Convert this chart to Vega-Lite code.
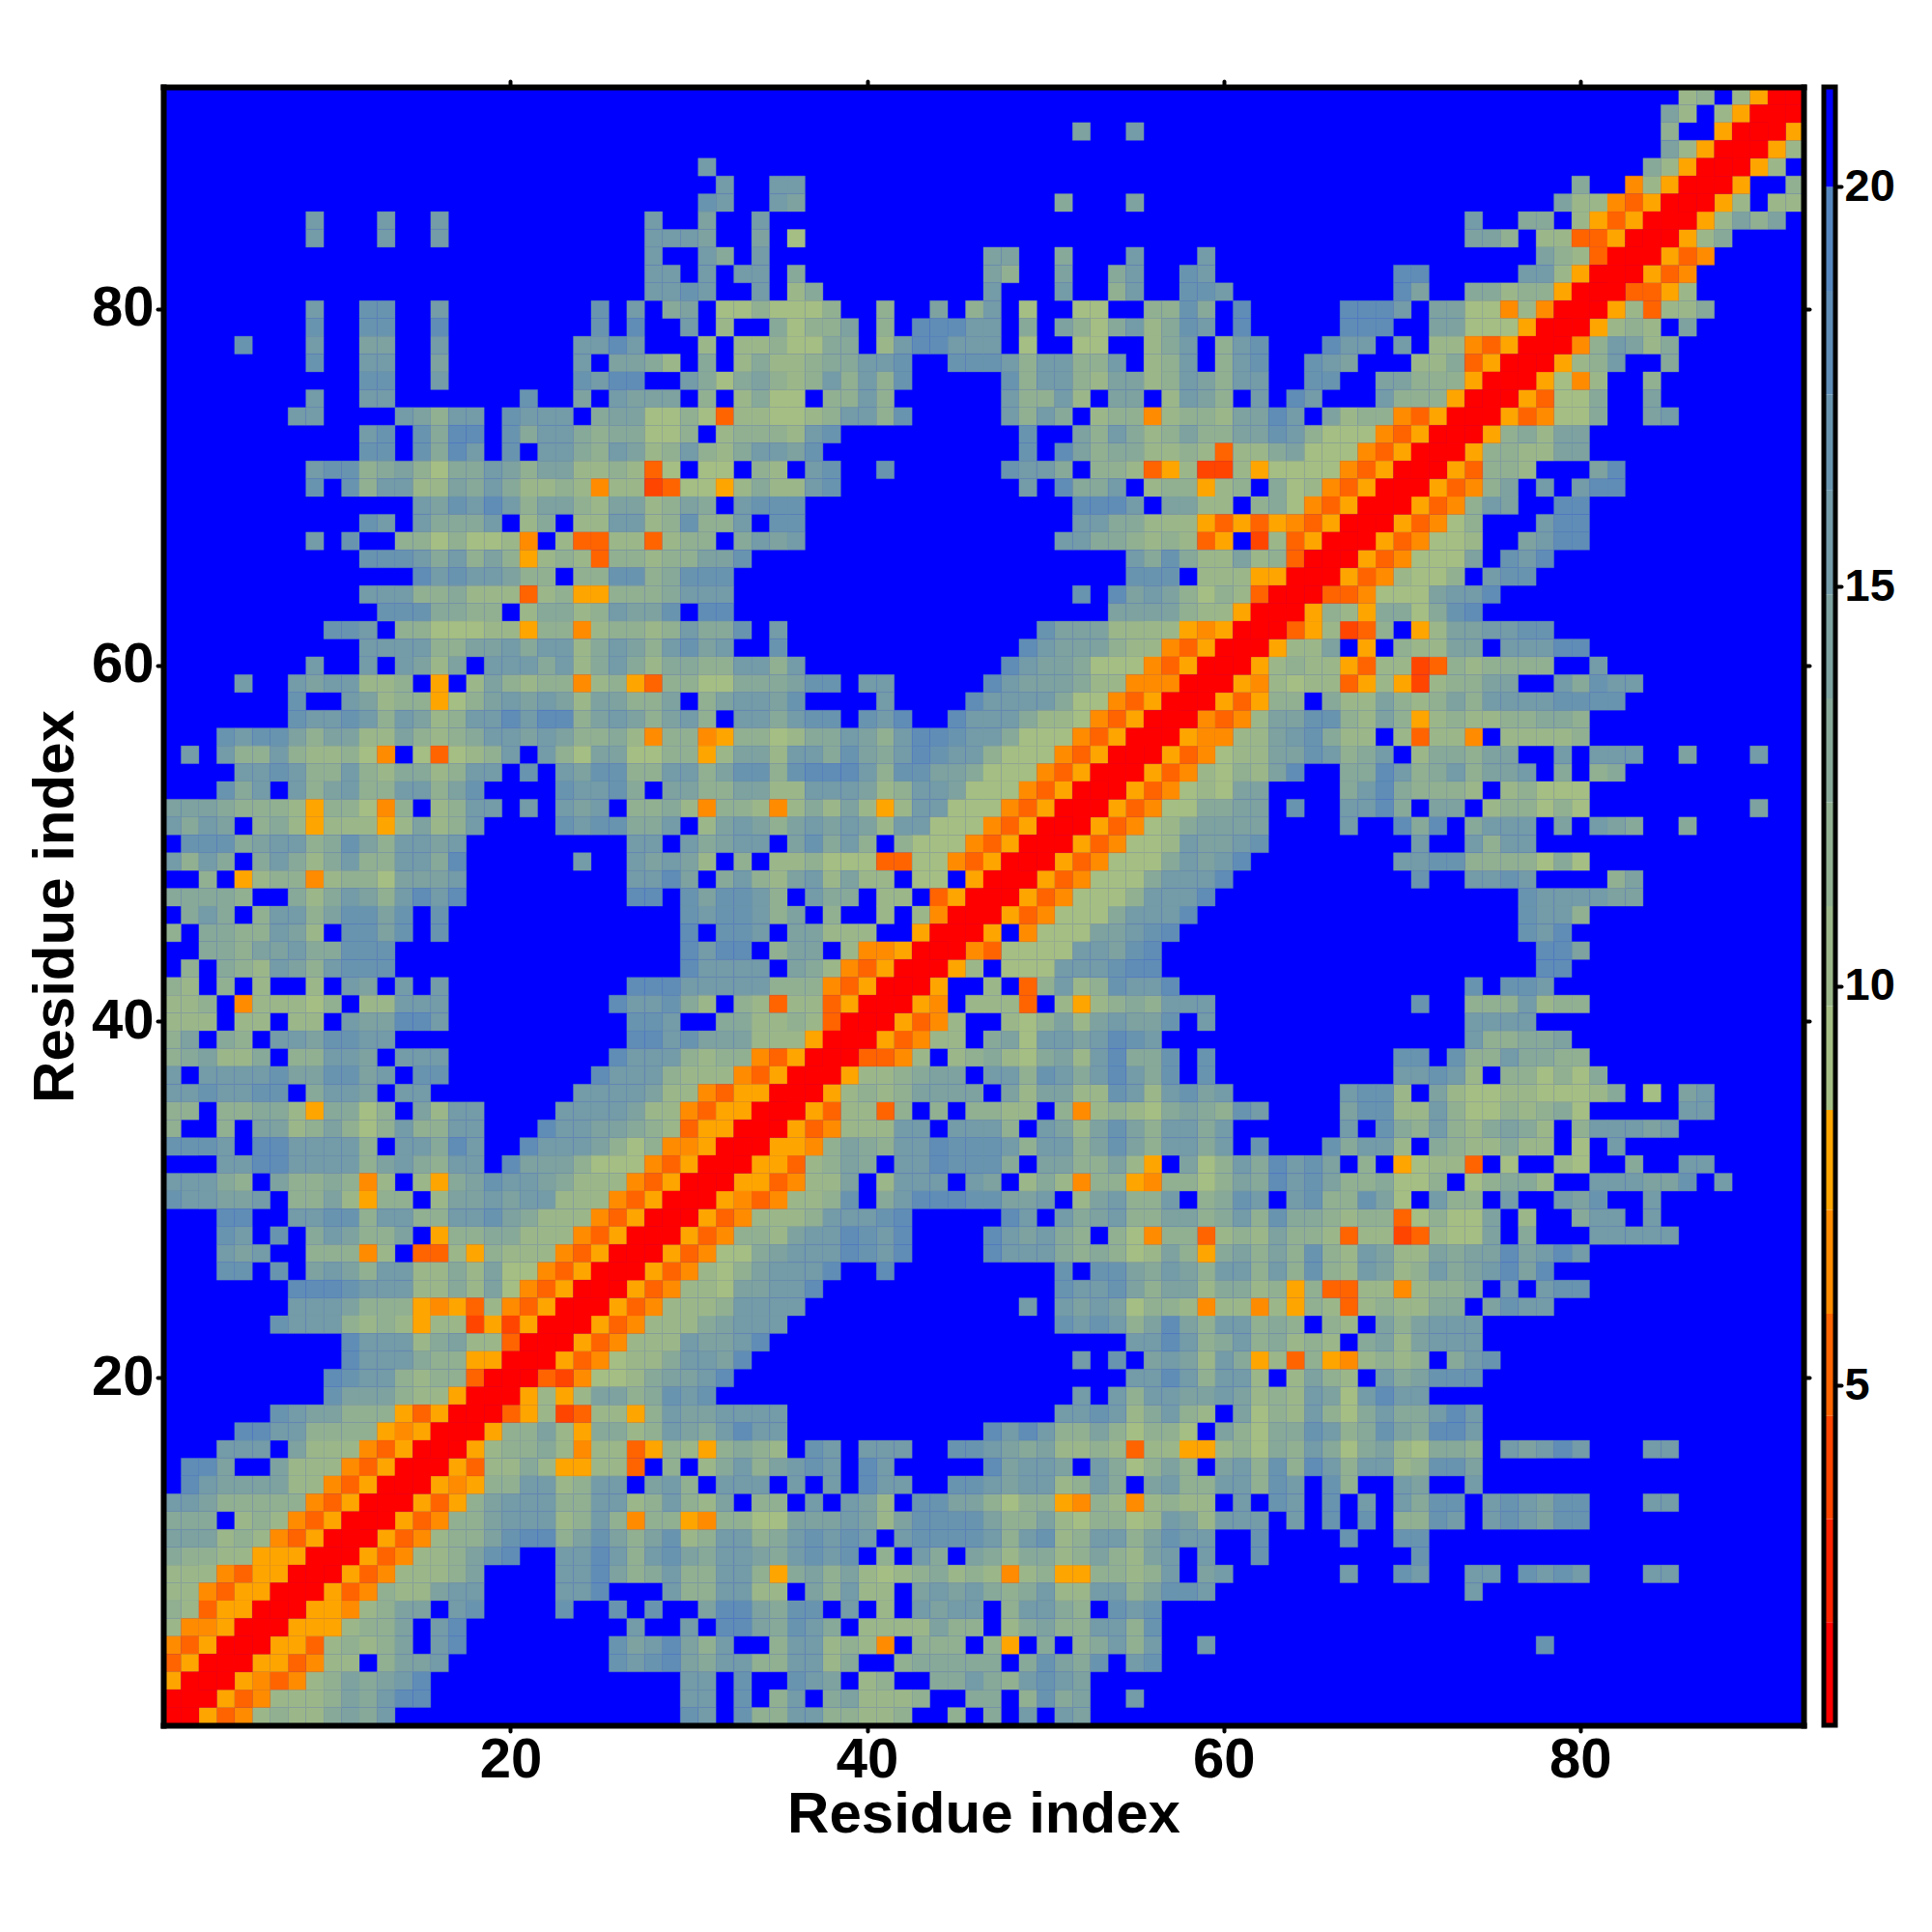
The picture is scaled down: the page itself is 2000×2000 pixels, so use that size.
{"$schema":"https://vega.github.io/schema/vega-lite/v6.json","background":"white","padding":{"left":27,"top":82,"right":5,"bottom":5},"spacing":10,
"datasets":{"m":[
{"i":86,"j":92,"d":10},{"i":87,"j":92,"d":11},{"i":89,"j":92,"d":10},{"i":90,"j":92,"d":8},{"i":91,"j":92,"d":1.5},{"i":92,"j":92,"d":1.5},
{"i":85,"j":91,"d":14},{"i":86,"j":91,"d":10},{"i":88,"j":91,"d":10},{"i":89,"j":91,"d":8},{"i":90,"j":91,"d":1.5},{"i":91,"j":91,"d":1.5},
{"i":52,"j":90,"d":14},{"i":55,"j":90,"d":15},{"i":85,"j":90,"d":11},{"i":88,"j":90,"d":8},{"i":89,"j":90,"d":1.5},{"i":90,"j":90,"d":1.5},
{"i":85,"j":89,"d":14},{"i":86,"j":89,"d":10},{"i":87,"j":89,"d":8},{"i":88,"j":89,"d":1.5},{"i":89,"j":89,"d":1.5},
{"i":31,"j":88,"d":15},{"i":84,"j":88,"d":13},{"i":85,"j":88,"d":10},{"i":86,"j":88,"d":8},{"i":87,"j":88,"d":1.5},{"i":88,"j":88,"d":1.5},
{"i":32,"j":87,"d":16},{"i":35,"j":87,"d":15},{"i":36,"j":87,"d":15},{"i":80,"j":87,"d":13},{"i":83,"j":87,"d":6.5},{"i":84,"j":87,"d":10},{"i":85,"j":87,"d":8},{"i":86,"j":87,"d":1.5},{"i":87,"j":87,"d":1.5},
{"i":31,"j":86,"d":17},{"i":32,"j":86,"d":15},{"i":35,"j":86,"d":15},{"i":36,"j":86,"d":14},{"i":51,"j":86,"d":13},{"i":55,"j":86,"d":14},{"i":79,"j":86,"d":14},{"i":80,"j":86,"d":10},{"i":81,"j":86,"d":10},{"i":82,"j":86,"d":6.5},{"i":83,"j":86,"d":5},{"i":84,"j":86,"d":8},{"i":85,"j":86,"d":1.5},{"i":86,"j":86,"d":1.5},
{"i":9,"j":85,"d":16},{"i":13,"j":85,"d":16},{"i":16,"j":85,"d":16},{"i":28,"j":85,"d":15},{"i":31,"j":85,"d":14},{"i":34,"j":85,"d":15},{"i":74,"j":85,"d":16},{"i":77,"j":85,"d":13},{"i":78,"j":85,"d":13},{"i":80,"j":85,"d":10},{"i":81,"j":85,"d":8},{"i":82,"j":85,"d":5},{"i":83,"j":85,"d":8},{"i":84,"j":85,"d":1.5},{"i":85,"j":85,"d":1.5},
{"i":9,"j":84,"d":16},{"i":13,"j":84,"d":16},{"i":16,"j":84,"d":16},{"i":28,"j":84,"d":15},{"i":29,"j":84,"d":16},{"i":30,"j":84,"d":16},{"i":31,"j":84,"d":14},{"i":34,"j":84,"d":14},{"i":36,"j":84,"d":9},{"i":74,"j":84,"d":14},{"i":75,"j":84,"d":14},{"i":76,"j":84,"d":12},{"i":78,"j":84,"d":10},{"i":79,"j":84,"d":10},{"i":80,"j":84,"d":5},{"i":81,"j":84,"d":5},{"i":82,"j":84,"d":8},{"i":83,"j":84,"d":1.5},{"i":84,"j":84,"d":1.5},
{"i":28,"j":83,"d":16},{"i":31,"j":83,"d":15},{"i":32,"j":83,"d":13},{"i":34,"j":83,"d":15},{"i":47,"j":83,"d":14},{"i":48,"j":83,"d":14},{"i":51,"j":83,"d":13},{"i":55,"j":83,"d":15},{"i":59,"j":83,"d":15},{"i":78,"j":83,"d":14},{"i":79,"j":83,"d":12},{"i":80,"j":83,"d":10},{"i":81,"j":83,"d":5},{"i":82,"j":83,"d":1.5},{"i":83,"j":83,"d":1.5},
{"i":28,"j":82,"d":16},{"i":29,"j":82,"d":16},{"i":31,"j":82,"d":15},{"i":33,"j":82,"d":15},{"i":34,"j":82,"d":15},{"i":36,"j":82,"d":13},{"i":47,"j":82,"d":14},{"i":48,"j":82,"d":12},{"i":51,"j":82,"d":14},{"i":54,"j":82,"d":13},{"i":55,"j":82,"d":15},{"i":58,"j":82,"d":17},{"i":59,"j":82,"d":16},{"i":70,"j":82,"d":18},{"i":71,"j":82,"d":18},{"i":77,"j":82,"d":15},{"i":78,"j":82,"d":15},{"i":79,"j":82,"d":10},{"i":80,"j":82,"d":8},{"i":81,"j":82,"d":1.5},{"i":82,"j":82,"d":1.5},
{"i":28,"j":81,"d":15},{"i":29,"j":81,"d":15},{"i":30,"j":81,"d":17},{"i":31,"j":81,"d":15},{"i":34,"j":81,"d":15},{"i":36,"j":81,"d":10},{"i":37,"j":81,"d":13},{"i":47,"j":81,"d":15},{"i":51,"j":81,"d":15},{"i":54,"j":81,"d":12},{"i":55,"j":81,"d":15},{"i":58,"j":81,"d":17},{"i":59,"j":81,"d":17},{"i":60,"j":81,"d":15},{"i":70,"j":81,"d":18},{"i":71,"j":81,"d":14},{"i":74,"j":81,"d":13},{"i":75,"j":81,"d":13},{"i":76,"j":81,"d":10},{"i":77,"j":81,"d":12},{"i":78,"j":81,"d":11},{"i":79,"j":81,"d":8},{"i":80,"j":81,"d":1.5},{"i":81,"j":81,"d":1.5},
{"i":9,"j":80,"d":16},{"i":12,"j":80,"d":17},{"i":13,"j":80,"d":17},{"i":16,"j":80,"d":15},{"i":25,"j":80,"d":17},{"i":27,"j":80,"d":15},{"i":29,"j":80,"d":13},{"i":30,"j":80,"d":14},{"i":32,"j":80,"d":9},{"i":33,"j":80,"d":9},{"i":34,"j":80,"d":12},{"i":35,"j":80,"d":9},{"i":36,"j":80,"d":9},{"i":37,"j":80,"d":9},{"i":38,"j":80,"d":11},{"i":41,"j":80,"d":12},{"i":44,"j":80,"d":14},{"i":46,"j":80,"d":12},{"i":47,"j":80,"d":15},{"i":49,"j":80,"d":9},{"i":52,"j":80,"d":9},{"i":53,"j":80,"d":9},{"i":56,"j":80,"d":12},{"i":57,"j":80,"d":12},{"i":58,"j":80,"d":17},{"i":59,"j":80,"d":13},{"i":61,"j":80,"d":18},{"i":67,"j":80,"d":18},{"i":68,"j":80,"d":18},{"i":69,"j":80,"d":18},{"i":70,"j":80,"d":15},{"i":72,"j":80,"d":14},{"i":73,"j":80,"d":14},{"i":74,"j":80,"d":9},{"i":75,"j":80,"d":9},{"i":76,"j":80,"d":6.5},{"i":77,"j":80,"d":10},{"i":78,"j":80,"d":6.5},{"i":79,"j":80,"d":1.5},{"i":80,"j":80,"d":1.5},
{"i":9,"j":79,"d":17},{"i":12,"j":79,"d":17},{"i":13,"j":79,"d":17},{"i":16,"j":79,"d":18},{"i":25,"j":79,"d":17},{"i":27,"j":79,"d":18},{"i":30,"j":79,"d":15},{"i":32,"j":79,"d":10},{"i":35,"j":79,"d":13},{"i":36,"j":79,"d":9},{"i":37,"j":79,"d":12},{"i":38,"j":79,"d":12},{"i":39,"j":79,"d":14},{"i":41,"j":79,"d":12},{"i":43,"j":79,"d":18},{"i":44,"j":79,"d":18},{"i":45,"j":79,"d":18},{"i":46,"j":79,"d":15},{"i":47,"j":79,"d":16},{"i":49,"j":79,"d":13},{"i":51,"j":79,"d":14},{"i":52,"j":79,"d":12},{"i":53,"j":79,"d":9},{"i":54,"j":79,"d":13},{"i":55,"j":79,"d":15},{"i":56,"j":79,"d":10},{"i":57,"j":79,"d":13},{"i":58,"j":79,"d":17},{"i":59,"j":79,"d":15},{"i":61,"j":79,"d":18},{"i":67,"j":79,"d":18},{"i":68,"j":79,"d":18},{"i":69,"j":79,"d":18},{"i":72,"j":79,"d":14},{"i":73,"j":79,"d":14},{"i":74,"j":79,"d":9},{"i":75,"j":79,"d":9},{"i":76,"j":79,"d":9},{"i":77,"j":79,"d":8},{"i":78,"j":79,"d":1.5},{"i":79,"j":79,"d":1.5},
{"i":5,"j":78,"d":17},{"i":9,"j":78,"d":15},{"i":12,"j":78,"d":14},{"i":13,"j":78,"d":14},{"i":16,"j":78,"d":15},{"i":24,"j":78,"d":16},{"i":25,"j":78,"d":16},{"i":26,"j":78,"d":18},{"i":27,"j":78,"d":15},{"i":31,"j":78,"d":10},{"i":33,"j":78,"d":10},{"i":34,"j":78,"d":10},{"i":35,"j":78,"d":12},{"i":36,"j":78,"d":9},{"i":37,"j":78,"d":9},{"i":38,"j":78,"d":13},{"i":39,"j":78,"d":13},{"i":41,"j":78,"d":10},{"i":42,"j":78,"d":16},{"i":43,"j":78,"d":18},{"i":44,"j":78,"d":18},{"i":45,"j":78,"d":16},{"i":46,"j":78,"d":16},{"i":47,"j":78,"d":16},{"i":49,"j":78,"d":9},{"i":52,"j":78,"d":9},{"i":53,"j":78,"d":9},{"i":56,"j":78,"d":10},{"i":57,"j":78,"d":13},{"i":58,"j":78,"d":16},{"i":60,"j":78,"d":12},{"i":61,"j":78,"d":16},{"i":62,"j":78,"d":17},{"i":66,"j":78,"d":18},{"i":67,"j":78,"d":16},{"i":68,"j":78,"d":15},{"i":70,"j":78,"d":15},{"i":72,"j":78,"d":10},{"i":73,"j":78,"d":10},{"i":74,"j":78,"d":6.5},{"i":75,"j":78,"d":5},{"i":76,"j":78,"d":8},{"i":77,"j":78,"d":1.5},{"i":78,"j":78,"d":1.5},
{"i":9,"j":77,"d":17},{"i":12,"j":77,"d":15},{"i":13,"j":77,"d":16},{"i":16,"j":77,"d":14},{"i":24,"j":77,"d":16},{"i":26,"j":77,"d":14},{"i":27,"j":77,"d":14},{"i":28,"j":77,"d":13},{"i":29,"j":77,"d":10},{"i":31,"j":77,"d":13},{"i":33,"j":77,"d":10},{"i":34,"j":77,"d":13},{"i":35,"j":77,"d":10},{"i":36,"j":77,"d":10},{"i":37,"j":77,"d":12},{"i":38,"j":77,"d":13},{"i":39,"j":77,"d":13},{"i":40,"j":77,"d":16},{"i":41,"j":77,"d":16},{"i":42,"j":77,"d":17},{"i":45,"j":77,"d":17},{"i":46,"j":77,"d":17},{"i":47,"j":77,"d":17},{"i":48,"j":77,"d":16},{"i":49,"j":77,"d":11},{"i":50,"j":77,"d":15},{"i":51,"j":77,"d":16},{"i":52,"j":77,"d":12},{"i":53,"j":77,"d":11},{"i":54,"j":77,"d":15},{"i":56,"j":77,"d":10},{"i":57,"j":77,"d":11},{"i":58,"j":77,"d":16},{"i":60,"j":77,"d":12},{"i":61,"j":77,"d":16},{"i":62,"j":77,"d":17},{"i":65,"j":77,"d":17},{"i":66,"j":77,"d":15},{"i":67,"j":77,"d":14},{"i":71,"j":77,"d":10},{"i":72,"j":77,"d":10},{"i":73,"j":77,"d":13},{"i":74,"j":77,"d":5},{"i":75,"j":77,"d":8},{"i":76,"j":77,"d":1.5},{"i":77,"j":77,"d":1.5},
{"i":12,"j":76,"d":17},{"i":13,"j":76,"d":17},{"i":16,"j":76,"d":15},{"i":24,"j":76,"d":17},{"i":25,"j":76,"d":15},{"i":26,"j":76,"d":18},{"i":27,"j":76,"d":18},{"i":30,"j":76,"d":16},{"i":31,"j":76,"d":13},{"i":32,"j":76,"d":9},{"i":33,"j":76,"d":13},{"i":34,"j":76,"d":14},{"i":35,"j":76,"d":12},{"i":36,"j":76,"d":10},{"i":37,"j":76,"d":11},{"i":38,"j":76,"d":16},{"i":39,"j":76,"d":12},{"i":40,"j":76,"d":16},{"i":41,"j":76,"d":11},{"i":42,"j":76,"d":17},{"i":48,"j":76,"d":17},{"i":49,"j":76,"d":11},{"i":50,"j":76,"d":15},{"i":51,"j":76,"d":16},{"i":52,"j":76,"d":12},{"i":53,"j":76,"d":10},{"i":54,"j":76,"d":14},{"i":55,"j":76,"d":14},{"i":56,"j":76,"d":10},{"i":57,"j":76,"d":11},{"i":58,"j":76,"d":16},{"i":59,"j":76,"d":14},{"i":60,"j":76,"d":12},{"i":61,"j":76,"d":16},{"i":62,"j":76,"d":15},{"i":65,"j":76,"d":17},{"i":66,"j":76,"d":17},{"i":69,"j":76,"d":14},{"i":70,"j":76,"d":14},{"i":71,"j":76,"d":12},{"i":72,"j":76,"d":12},{"i":73,"j":76,"d":11},{"i":74,"j":76,"d":8},{"i":75,"j":76,"d":1.5},{"i":76,"j":76,"d":1.5},
{"i":9,"j":75,"d":16},{"i":12,"j":75,"d":15},{"i":13,"j":75,"d":15},{"i":21,"j":75,"d":17},{"i":24,"j":75,"d":14},{"i":26,"j":75,"d":16},{"i":27,"j":75,"d":14},{"i":28,"j":75,"d":14},{"i":29,"j":75,"d":14},{"i":31,"j":75,"d":12},{"i":33,"j":75,"d":10},{"i":34,"j":75,"d":13},{"i":35,"j":75,"d":9},{"i":36,"j":75,"d":9},{"i":38,"j":75,"d":12},{"i":39,"j":75,"d":12},{"i":40,"j":75,"d":16},{"i":41,"j":75,"d":12},{"i":48,"j":75,"d":15},{"i":49,"j":75,"d":11},{"i":50,"j":75,"d":12},{"i":51,"j":75,"d":16},{"i":52,"j":75,"d":10},{"i":54,"j":75,"d":14},{"i":55,"j":75,"d":14},{"i":57,"j":75,"d":10},{"i":58,"j":75,"d":15},{"i":59,"j":75,"d":14},{"i":60,"j":75,"d":12},{"i":62,"j":75,"d":15},{"i":64,"j":75,"d":18},{"i":65,"j":75,"d":15},{"i":69,"j":75,"d":15},{"i":70,"j":75,"d":11},{"i":71,"j":75,"d":11},{"i":72,"j":75,"d":11},{"i":73,"j":75,"d":8},{"i":74,"j":75,"d":1.5},{"i":75,"j":75,"d":1.5},
{"i":8,"j":74,"d":16},{"i":9,"j":74,"d":15},{"i":14,"j":74,"d":16},{"i":15,"j":74,"d":14},{"i":16,"j":74,"d":12},{"i":17,"j":74,"d":15},{"i":18,"j":74,"d":15},{"i":20,"j":74,"d":17},{"i":21,"j":74,"d":15},{"i":22,"j":74,"d":15},{"i":23,"j":74,"d":15},{"i":25,"j":74,"d":13},{"i":26,"j":74,"d":14},{"i":27,"j":74,"d":14},{"i":28,"j":74,"d":9},{"i":29,"j":74,"d":9},{"i":30,"j":74,"d":12},{"i":31,"j":74,"d":9},{"i":32,"j":74,"d":5},{"i":33,"j":74,"d":10},{"i":34,"j":74,"d":10},{"i":35,"j":74,"d":9},{"i":36,"j":74,"d":9},{"i":37,"j":74,"d":10},{"i":38,"j":74,"d":12},{"i":39,"j":74,"d":15},{"i":40,"j":74,"d":15},{"i":41,"j":74,"d":12},{"i":42,"j":74,"d":17},{"i":48,"j":74,"d":15},{"i":49,"j":74,"d":11},{"i":50,"j":74,"d":16},{"i":51,"j":74,"d":13},{"i":53,"j":74,"d":10},{"i":54,"j":74,"d":12},{"i":55,"j":74,"d":12},{"i":56,"j":74,"d":6.5},{"i":57,"j":74,"d":10},{"i":58,"j":74,"d":12},{"i":59,"j":74,"d":11},{"i":60,"j":74,"d":10},{"i":61,"j":74,"d":14},{"i":62,"j":74,"d":14},{"i":63,"j":74,"d":18},{"i":64,"j":74,"d":15},{"i":66,"j":74,"d":14},{"i":67,"j":74,"d":10},{"i":68,"j":74,"d":11},{"i":69,"j":74,"d":11},{"i":70,"j":74,"d":6.5},{"i":71,"j":74,"d":5},{"i":72,"j":74,"d":8},{"i":73,"j":74,"d":1.5},{"i":74,"j":74,"d":1.5},
{"i":12,"j":73,"d":16},{"i":13,"j":73,"d":17},{"i":15,"j":73,"d":17},{"i":16,"j":73,"d":13},{"i":17,"j":73,"d":18},{"i":18,"j":73,"d":18},{"i":20,"j":73,"d":17},{"i":21,"j":73,"d":13},{"i":22,"j":73,"d":16},{"i":23,"j":73,"d":16},{"i":24,"j":73,"d":13},{"i":25,"j":73,"d":11},{"i":26,"j":73,"d":13},{"i":27,"j":73,"d":13},{"i":28,"j":73,"d":9},{"i":29,"j":73,"d":9},{"i":30,"j":73,"d":12},{"i":32,"j":73,"d":10},{"i":33,"j":73,"d":11},{"i":34,"j":73,"d":11},{"i":35,"j":73,"d":11},{"i":36,"j":73,"d":10},{"i":37,"j":73,"d":15},{"i":38,"j":73,"d":17},{"i":49,"j":73,"d":17},{"i":52,"j":73,"d":14},{"i":53,"j":73,"d":11},{"i":54,"j":73,"d":16},{"i":55,"j":73,"d":13},{"i":56,"j":73,"d":10},{"i":57,"j":73,"d":11},{"i":58,"j":73,"d":14},{"i":59,"j":73,"d":11},{"i":60,"j":73,"d":11},{"i":61,"j":73,"d":14},{"i":62,"j":73,"d":14},{"i":63,"j":73,"d":17},{"i":64,"j":73,"d":15},{"i":65,"j":73,"d":12},{"i":66,"j":73,"d":9},{"i":67,"j":73,"d":9},{"i":68,"j":73,"d":9},{"i":69,"j":73,"d":6.5},{"i":70,"j":73,"d":5},{"i":71,"j":73,"d":8},{"i":72,"j":73,"d":1.5},{"i":73,"j":73,"d":1.5},
{"i":12,"j":72,"d":17},{"i":13,"j":72,"d":17},{"i":15,"j":72,"d":17},{"i":16,"j":72,"d":13},{"i":17,"j":72,"d":18},{"i":18,"j":72,"d":16},{"i":20,"j":72,"d":17},{"i":22,"j":72,"d":16},{"i":23,"j":72,"d":16},{"i":24,"j":72,"d":13},{"i":25,"j":72,"d":11},{"i":26,"j":72,"d":16},{"i":27,"j":72,"d":14},{"i":28,"j":72,"d":10},{"i":29,"j":72,"d":12},{"i":30,"j":72,"d":15},{"i":31,"j":72,"d":11},{"i":32,"j":72,"d":10},{"i":33,"j":72,"d":13},{"i":34,"j":72,"d":15},{"i":35,"j":72,"d":15},{"i":36,"j":72,"d":14},{"i":37,"j":72,"d":17},{"i":49,"j":72,"d":17},{"i":51,"j":72,"d":18},{"i":52,"j":72,"d":14},{"i":53,"j":72,"d":11},{"i":54,"j":72,"d":13},{"i":55,"j":72,"d":13},{"i":56,"j":72,"d":10},{"i":57,"j":72,"d":10},{"i":58,"j":72,"d":11},{"i":59,"j":72,"d":10},{"i":60,"j":72,"d":5},{"i":61,"j":72,"d":10},{"i":62,"j":72,"d":10},{"i":63,"j":72,"d":13},{"i":64,"j":72,"d":14},{"i":65,"j":72,"d":9},{"i":66,"j":72,"d":9},{"i":67,"j":72,"d":9},{"i":68,"j":72,"d":6.5},{"i":69,"j":72,"d":5},{"i":70,"j":72,"d":8},{"i":71,"j":72,"d":1.5},{"i":72,"j":72,"d":1.5},
{"i":9,"j":71,"d":15},{"i":10,"j":71,"d":17},{"i":11,"j":71,"d":17},{"i":12,"j":71,"d":11},{"i":13,"j":71,"d":13},{"i":14,"j":71,"d":14},{"i":15,"j":71,"d":12},{"i":16,"j":71,"d":9},{"i":17,"j":71,"d":13},{"i":18,"j":71,"d":13},{"i":19,"j":71,"d":16},{"i":20,"j":71,"d":14},{"i":21,"j":71,"d":11},{"i":22,"j":71,"d":14},{"i":23,"j":71,"d":14},{"i":24,"j":71,"d":10},{"i":25,"j":71,"d":10},{"i":26,"j":71,"d":11},{"i":27,"j":71,"d":10},{"i":28,"j":71,"d":5},{"i":29,"j":71,"d":9},{"i":31,"j":71,"d":9},{"i":32,"j":71,"d":9},{"i":34,"j":71,"d":12},{"i":35,"j":71,"d":10},{"i":37,"j":71,"d":15},{"i":38,"j":71,"d":17},{"i":41,"j":71,"d":17},{"i":48,"j":71,"d":17},{"i":49,"j":71,"d":15},{"i":50,"j":71,"d":15},{"i":51,"j":71,"d":13},{"i":53,"j":71,"d":11},{"i":54,"j":71,"d":11},{"i":55,"j":71,"d":10},{"i":56,"j":71,"d":5},{"i":57,"j":71,"d":8},{"i":58,"j":71,"d":10},{"i":59,"j":71,"d":4},{"i":60,"j":71,"d":4},{"i":61,"j":71,"d":10},{"i":62,"j":71,"d":8},{"i":63,"j":71,"d":9},{"i":64,"j":71,"d":9},{"i":65,"j":71,"d":9},{"i":66,"j":71,"d":9},{"i":67,"j":71,"d":6.5},{"i":68,"j":71,"d":5},{"i":69,"j":71,"d":8},{"i":70,"j":71,"d":1.5},{"i":71,"j":71,"d":1.5},
{"i":9,"j":70,"d":17},{"i":11,"j":70,"d":17},{"i":12,"j":70,"d":11},{"i":13,"j":70,"d":15},{"i":14,"j":70,"d":15},{"i":15,"j":70,"d":10},{"i":16,"j":70,"d":10},{"i":17,"j":70,"d":14},{"i":18,"j":70,"d":13},{"i":19,"j":70,"d":16},{"i":20,"j":70,"d":13},{"i":21,"j":70,"d":10},{"i":22,"j":70,"d":10},{"i":23,"j":70,"d":12},{"i":24,"j":70,"d":10},{"i":25,"j":70,"d":6.5},{"i":26,"j":70,"d":10},{"i":27,"j":70,"d":10},{"i":28,"j":70,"d":4},{"i":29,"j":70,"d":5},{"i":30,"j":70,"d":9},{"i":31,"j":70,"d":9},{"i":32,"j":70,"d":8},{"i":33,"j":70,"d":10},{"i":34,"j":70,"d":13},{"i":35,"j":70,"d":10},{"i":36,"j":70,"d":10},{"i":37,"j":70,"d":16},{"i":38,"j":70,"d":17},{"i":49,"j":70,"d":16},{"i":51,"j":70,"d":18},{"i":52,"j":70,"d":13},{"i":53,"j":70,"d":13},{"i":54,"j":70,"d":16},{"i":56,"j":70,"d":10},{"i":57,"j":70,"d":12},{"i":58,"j":70,"d":12},{"i":59,"j":70,"d":8},{"i":60,"j":70,"d":10},{"i":61,"j":70,"d":12},{"i":63,"j":70,"d":13},{"i":64,"j":70,"d":9},{"i":65,"j":70,"d":10},{"i":66,"j":70,"d":6.5},{"i":67,"j":70,"d":5},{"i":68,"j":70,"d":8},{"i":69,"j":70,"d":1.5},{"i":70,"j":70,"d":1.5},
{"i":15,"j":69,"d":16},{"i":16,"j":69,"d":14},{"i":17,"j":69,"d":17},{"i":18,"j":69,"d":16},{"i":19,"j":69,"d":18},{"i":20,"j":69,"d":15},{"i":21,"j":69,"d":11},{"i":22,"j":69,"d":14},{"i":23,"j":69,"d":14},{"i":24,"j":69,"d":12},{"i":25,"j":69,"d":10},{"i":26,"j":69,"d":14},{"i":27,"j":69,"d":14},{"i":28,"j":69,"d":10},{"i":29,"j":69,"d":12},{"i":30,"j":69,"d":14},{"i":31,"j":69,"d":13},{"i":33,"j":69,"d":15},{"i":34,"j":69,"d":17},{"i":35,"j":69,"d":17},{"i":36,"j":69,"d":17},{"i":52,"j":69,"d":18},{"i":53,"j":69,"d":18},{"i":54,"j":69,"d":18},{"i":55,"j":69,"d":16},{"i":57,"j":69,"d":14},{"i":58,"j":69,"d":14},{"i":59,"j":69,"d":10},{"i":60,"j":69,"d":10},{"i":62,"j":69,"d":11},{"i":63,"j":69,"d":13},{"i":64,"j":69,"d":9},{"i":65,"j":69,"d":6.5},{"i":66,"j":69,"d":5},{"i":67,"j":69,"d":8},{"i":68,"j":69,"d":1.5},{"i":69,"j":69,"d":1.5},
{"i":12,"j":68,"d":17},{"i":13,"j":68,"d":15},{"i":15,"j":68,"d":15},{"i":16,"j":68,"d":13},{"i":17,"j":68,"d":13},{"i":18,"j":68,"d":13},{"i":19,"j":68,"d":15},{"i":21,"j":68,"d":10},{"i":22,"j":68,"d":13},{"i":24,"j":68,"d":10},{"i":25,"j":68,"d":10},{"i":26,"j":68,"d":15},{"i":27,"j":68,"d":15},{"i":28,"j":68,"d":10},{"i":29,"j":68,"d":12},{"i":30,"j":68,"d":17},{"i":31,"j":68,"d":12},{"i":32,"j":68,"d":11},{"i":33,"j":68,"d":16},{"i":35,"j":68,"d":17},{"i":36,"j":68,"d":17},{"i":52,"j":68,"d":15},{"i":53,"j":68,"d":15},{"i":54,"j":68,"d":13},{"i":55,"j":68,"d":13},{"i":56,"j":68,"d":10},{"i":57,"j":68,"d":10},{"i":58,"j":68,"d":10},{"i":59,"j":68,"d":8},{"i":60,"j":68,"d":5},{"i":61,"j":68,"d":8},{"i":62,"j":68,"d":5},{"i":63,"j":68,"d":8},{"i":64,"j":68,"d":6.5},{"i":65,"j":68,"d":5},{"i":66,"j":68,"d":8},{"i":67,"j":68,"d":1.5},{"i":68,"j":68,"d":1.5},
{"i":9,"j":67,"d":16},{"i":11,"j":67,"d":17},{"i":14,"j":67,"d":12},{"i":15,"j":67,"d":11},{"i":16,"j":67,"d":9},{"i":17,"j":67,"d":11},{"i":18,"j":67,"d":9},{"i":19,"j":67,"d":9},{"i":20,"j":67,"d":10},{"i":21,"j":67,"d":6.5},{"i":23,"j":67,"d":10},{"i":24,"j":67,"d":5},{"i":25,"j":67,"d":5},{"i":26,"j":67,"d":10},{"i":27,"j":67,"d":10},{"i":28,"j":67,"d":5},{"i":29,"j":67,"d":10},{"i":30,"j":67,"d":11},{"i":31,"j":67,"d":11},{"i":33,"j":67,"d":13},{"i":34,"j":67,"d":16},{"i":35,"j":67,"d":14},{"i":36,"j":67,"d":16},{"i":51,"j":67,"d":16},{"i":52,"j":67,"d":15},{"i":53,"j":67,"d":13},{"i":54,"j":67,"d":13},{"i":55,"j":67,"d":11},{"i":56,"j":67,"d":10},{"i":57,"j":67,"d":11},{"i":58,"j":67,"d":10},{"i":59,"j":67,"d":5},{"i":60,"j":67,"d":8},{"i":62,"j":67,"d":4},{"i":63,"j":67,"d":10},{"i":64,"j":67,"d":5},{"i":65,"j":67,"d":8},{"i":66,"j":67,"d":1.5},{"i":67,"j":67,"d":1.5},
{"i":12,"j":66,"d":17},{"i":13,"j":66,"d":17},{"i":14,"j":66,"d":17},{"i":15,"j":66,"d":16},{"i":16,"j":66,"d":13},{"i":17,"j":66,"d":15},{"i":18,"j":66,"d":11},{"i":19,"j":66,"d":14},{"i":20,"j":66,"d":11},{"i":21,"j":66,"d":8},{"i":22,"j":66,"d":10},{"i":23,"j":66,"d":11},{"i":24,"j":66,"d":10},{"i":25,"j":66,"d":5},{"i":26,"j":66,"d":11},{"i":27,"j":66,"d":11},{"i":28,"j":66,"d":10},{"i":29,"j":66,"d":11},{"i":30,"j":66,"d":12},{"i":31,"j":66,"d":14},{"i":32,"j":66,"d":14},{"i":33,"j":66,"d":17},{"i":55,"j":66,"d":16},{"i":56,"j":66,"d":13},{"i":57,"j":66,"d":17},{"i":58,"j":66,"d":13},{"i":59,"j":66,"d":10},{"i":60,"j":66,"d":10},{"i":61,"j":66,"d":14},{"i":62,"j":66,"d":10},{"i":63,"j":66,"d":11},{"i":64,"j":66,"d":5},{"i":65,"j":66,"d":1.5},{"i":66,"j":66,"d":1.5},
{"i":15,"j":65,"d":18},{"i":16,"j":65,"d":16},{"i":17,"j":65,"d":17},{"i":18,"j":65,"d":16},{"i":19,"j":65,"d":16},{"i":20,"j":65,"d":14},{"i":21,"j":65,"d":11},{"i":22,"j":65,"d":11},{"i":24,"j":65,"d":11},{"i":25,"j":65,"d":11},{"i":26,"j":65,"d":17},{"i":27,"j":65,"d":17},{"i":28,"j":65,"d":11},{"i":29,"j":65,"d":13},{"i":30,"j":65,"d":17},{"i":31,"j":65,"d":17},{"i":32,"j":65,"d":17},{"i":55,"j":65,"d":17},{"i":56,"j":65,"d":17},{"i":57,"j":65,"d":17},{"i":59,"j":65,"d":10},{"i":60,"j":65,"d":10},{"i":61,"j":65,"d":10},{"i":62,"j":65,"d":8},{"i":63,"j":65,"d":8},{"i":64,"j":65,"d":1.5},{"i":65,"j":65,"d":1.5},
{"i":12,"j":64,"d":16},{"i":13,"j":64,"d":16},{"i":14,"j":64,"d":16},{"i":15,"j":64,"d":11},{"i":16,"j":64,"d":11},{"i":17,"j":64,"d":13},{"i":18,"j":64,"d":10},{"i":19,"j":64,"d":10},{"i":20,"j":64,"d":10},{"i":21,"j":64,"d":5},{"i":22,"j":64,"d":10},{"i":23,"j":64,"d":11},{"i":24,"j":64,"d":8},{"i":25,"j":64,"d":8},{"i":26,"j":64,"d":12},{"i":27,"j":64,"d":12},{"i":28,"j":64,"d":12},{"i":29,"j":64,"d":13},{"i":30,"j":64,"d":16},{"i":31,"j":64,"d":16},{"i":32,"j":64,"d":16},{"i":52,"j":64,"d":17},{"i":54,"j":64,"d":18},{"i":55,"j":64,"d":14},{"i":56,"j":64,"d":15},{"i":57,"j":64,"d":14},{"i":58,"j":64,"d":11},{"i":59,"j":64,"d":9},{"i":60,"j":64,"d":11},{"i":61,"j":64,"d":10},{"i":62,"j":64,"d":5},{"i":63,"j":64,"d":1.5},{"i":64,"j":64,"d":1.5},
{"i":13,"j":63,"d":17},{"i":14,"j":63,"d":17},{"i":15,"j":63,"d":17},{"i":16,"j":63,"d":13},{"i":17,"j":63,"d":13},{"i":18,"j":63,"d":12},{"i":19,"j":63,"d":12},{"i":21,"j":63,"d":10},{"i":22,"j":63,"d":13},{"i":23,"j":63,"d":13},{"i":24,"j":63,"d":10},{"i":25,"j":63,"d":11},{"i":26,"j":63,"d":16},{"i":27,"j":63,"d":14},{"i":28,"j":63,"d":14},{"i":29,"j":63,"d":17},{"i":31,"j":63,"d":18},{"i":32,"j":63,"d":18},{"i":54,"j":63,"d":14},{"i":55,"j":63,"d":14},{"i":56,"j":63,"d":14},{"i":57,"j":63,"d":14},{"i":58,"j":63,"d":11},{"i":59,"j":63,"d":10},{"i":60,"j":63,"d":10},{"i":61,"j":63,"d":8},{"i":62,"j":63,"d":1.5},{"i":63,"j":63,"d":1.5},
{"i":10,"j":62,"d":17},{"i":11,"j":62,"d":17},{"i":12,"j":62,"d":15},{"i":14,"j":62,"d":12},{"i":15,"j":62,"d":12},{"i":16,"j":62,"d":9},{"i":17,"j":62,"d":9},{"i":18,"j":62,"d":9},{"i":19,"j":62,"d":10},{"i":20,"j":62,"d":10},{"i":21,"j":62,"d":8},{"i":22,"j":62,"d":12},{"i":23,"j":62,"d":12},{"i":24,"j":62,"d":6.5},{"i":25,"j":62,"d":10},{"i":26,"j":62,"d":12},{"i":27,"j":62,"d":12},{"i":28,"j":62,"d":10},{"i":29,"j":62,"d":12},{"i":30,"j":62,"d":15},{"i":31,"j":62,"d":13},{"i":32,"j":62,"d":13},{"i":33,"j":62,"d":17},{"i":35,"j":62,"d":16},{"i":50,"j":62,"d":17},{"i":51,"j":62,"d":14},{"i":52,"j":62,"d":14},{"i":53,"j":62,"d":14},{"i":54,"j":62,"d":10},{"i":55,"j":62,"d":10},{"i":56,"j":62,"d":10},{"i":57,"j":62,"d":10},{"i":58,"j":62,"d":8},{"i":59,"j":62,"d":6.5},{"i":60,"j":62,"d":8},{"i":61,"j":62,"d":1.5},{"i":62,"j":62,"d":1.5},
{"i":12,"j":61,"d":15},{"i":13,"j":61,"d":15},{"i":14,"j":61,"d":15},{"i":15,"j":61,"d":15},{"i":16,"j":61,"d":12},{"i":17,"j":61,"d":12},{"i":18,"j":61,"d":14},{"i":19,"j":61,"d":14},{"i":20,"j":61,"d":15},{"i":21,"j":61,"d":13},{"i":22,"j":61,"d":15},{"i":23,"j":61,"d":15},{"i":24,"j":61,"d":10},{"i":25,"j":61,"d":13},{"i":26,"j":61,"d":16},{"i":27,"j":61,"d":14},{"i":28,"j":61,"d":11},{"i":29,"j":61,"d":15},{"i":30,"j":61,"d":17},{"i":31,"j":61,"d":14},{"i":32,"j":61,"d":16},{"i":35,"j":61,"d":17},{"i":49,"j":61,"d":18},{"i":50,"j":61,"d":16},{"i":51,"j":61,"d":14},{"i":52,"j":61,"d":14},{"i":53,"j":61,"d":14},{"i":54,"j":61,"d":12},{"i":55,"j":61,"d":10},{"i":56,"j":61,"d":10},{"i":57,"j":61,"d":6.5},{"i":58,"j":61,"d":5},{"i":59,"j":61,"d":8},{"i":60,"j":61,"d":1.5},{"i":61,"j":61,"d":1.5},
{"i":9,"j":60,"d":15},{"i":12,"j":60,"d":15},{"i":14,"j":60,"d":16},{"i":15,"j":60,"d":14},{"i":16,"j":60,"d":10},{"i":17,"j":60,"d":14},{"i":19,"j":60,"d":15},{"i":20,"j":60,"d":15},{"i":21,"j":60,"d":15},{"i":22,"j":60,"d":13},{"i":23,"j":60,"d":16},{"i":24,"j":60,"d":10},{"i":25,"j":60,"d":13},{"i":26,"j":60,"d":15},{"i":27,"j":60,"d":13},{"i":28,"j":60,"d":10},{"i":29,"j":60,"d":13},{"i":30,"j":60,"d":13},{"i":31,"j":60,"d":11},{"i":32,"j":60,"d":11},{"i":33,"j":60,"d":16},{"i":34,"j":60,"d":16},{"i":35,"j":60,"d":12},{"i":36,"j":60,"d":15},{"i":48,"j":60,"d":18},{"i":49,"j":60,"d":15},{"i":50,"j":60,"d":14},{"i":51,"j":60,"d":14},{"i":52,"j":60,"d":13},{"i":53,"j":60,"d":9},{"i":54,"j":60,"d":9},{"i":55,"j":60,"d":9},{"i":56,"j":60,"d":6.5},{"i":57,"j":60,"d":5},{"i":58,"j":60,"d":8},{"i":59,"j":60,"d":1.5},{"i":60,"j":60,"d":1.5},
{"i":5,"j":59,"d":16},{"i":8,"j":59,"d":15},{"i":9,"j":59,"d":14},{"i":10,"j":59,"d":15},{"i":11,"j":59,"d":15},{"i":12,"j":59,"d":10},{"i":13,"j":59,"d":10},{"i":14,"j":59,"d":11},{"i":16,"j":59,"d":8},{"i":18,"j":59,"d":10},{"i":19,"j":59,"d":14},{"i":20,"j":59,"d":12},{"i":21,"j":59,"d":10},{"i":22,"j":59,"d":12},{"i":23,"j":59,"d":12},{"i":24,"j":59,"d":6.5},{"i":25,"j":59,"d":10},{"i":26,"j":59,"d":12},{"i":27,"j":59,"d":8},{"i":28,"j":59,"d":5},{"i":29,"j":59,"d":11},{"i":30,"j":59,"d":11},{"i":31,"j":59,"d":9},{"i":32,"j":59,"d":9},{"i":33,"j":59,"d":13},{"i":34,"j":59,"d":13},{"i":35,"j":59,"d":13},{"i":36,"j":59,"d":14},{"i":37,"j":59,"d":17},{"i":38,"j":59,"d":17},{"i":40,"j":59,"d":16},{"i":41,"j":59,"d":16},{"i":47,"j":59,"d":18},{"i":48,"j":59,"d":16},{"i":49,"j":59,"d":14},{"i":50,"j":59,"d":14},{"i":51,"j":59,"d":14},{"i":52,"j":59,"d":13},{"i":53,"j":59,"d":10},{"i":54,"j":59,"d":10},{"i":55,"j":59,"d":6.5},{"i":56,"j":59,"d":6.5},{"i":57,"j":59,"d":6.5},{"i":58,"j":59,"d":1.5},{"i":59,"j":59,"d":1.5},
{"i":8,"j":58,"d":17},{"i":11,"j":58,"d":15},{"i":12,"j":58,"d":14},{"i":13,"j":58,"d":10},{"i":14,"j":58,"d":11},{"i":15,"j":58,"d":11},{"i":16,"j":58,"d":8},{"i":17,"j":58,"d":9},{"i":18,"j":58,"d":11},{"i":19,"j":58,"d":14},{"i":20,"j":58,"d":15},{"i":21,"j":58,"d":14},{"i":22,"j":58,"d":16},{"i":23,"j":58,"d":14},{"i":24,"j":58,"d":10},{"i":25,"j":58,"d":14},{"i":26,"j":58,"d":14},{"i":27,"j":58,"d":12},{"i":28,"j":58,"d":11},{"i":29,"j":58,"d":14},{"i":31,"j":58,"d":11},{"i":32,"j":58,"d":14},{"i":33,"j":58,"d":16},{"i":34,"j":58,"d":16},{"i":35,"j":58,"d":14},{"i":36,"j":58,"d":17},{"i":41,"j":58,"d":16},{"i":46,"j":58,"d":18},{"i":47,"j":58,"d":16},{"i":48,"j":58,"d":15},{"i":49,"j":58,"d":15},{"i":50,"j":58,"d":15},{"i":51,"j":58,"d":13},{"i":52,"j":58,"d":9},{"i":53,"j":58,"d":9},{"i":54,"j":58,"d":6.5},{"i":55,"j":58,"d":5},{"i":56,"j":58,"d":8},{"i":57,"j":58,"d":1.5},{"i":58,"j":58,"d":1.5},
{"i":8,"j":57,"d":17},{"i":9,"j":57,"d":16},{"i":10,"j":57,"d":16},{"i":11,"j":57,"d":17},{"i":12,"j":57,"d":15},{"i":13,"j":57,"d":12},{"i":14,"j":57,"d":16},{"i":15,"j":57,"d":14},{"i":16,"j":57,"d":10},{"i":17,"j":57,"d":12},{"i":18,"j":57,"d":16},{"i":19,"j":57,"d":16},{"i":20,"j":57,"d":18},{"i":21,"j":57,"d":16},{"i":22,"j":57,"d":18},{"i":23,"j":57,"d":18},{"i":24,"j":57,"d":12},{"i":25,"j":57,"d":14},{"i":26,"j":57,"d":16},{"i":27,"j":57,"d":14},{"i":28,"j":57,"d":11},{"i":29,"j":57,"d":14},{"i":30,"j":57,"d":16},{"i":31,"j":57,"d":11},{"i":33,"j":57,"d":16},{"i":34,"j":57,"d":16},{"i":35,"j":57,"d":13},{"i":36,"j":57,"d":15},{"i":37,"j":57,"d":17},{"i":38,"j":57,"d":17},{"i":40,"j":57,"d":17},{"i":41,"j":57,"d":16},{"i":42,"j":57,"d":18},{"i":45,"j":57,"d":18},{"i":46,"j":57,"d":16},{"i":47,"j":57,"d":15},{"i":48,"j":57,"d":15},{"i":49,"j":57,"d":13},{"i":50,"j":57,"d":10},{"i":51,"j":57,"d":10},{"i":52,"j":57,"d":9},{"i":53,"j":57,"d":6.5},{"i":54,"j":57,"d":5},{"i":55,"j":57,"d":8},{"i":56,"j":57,"d":1.5},{"i":57,"j":57,"d":1.5},
{"i":4,"j":56,"d":17},{"i":5,"j":56,"d":15},{"i":6,"j":56,"d":17},{"i":7,"j":56,"d":17},{"i":8,"j":56,"d":14},{"i":9,"j":56,"d":12},{"i":10,"j":56,"d":14},{"i":11,"j":56,"d":14},{"i":12,"j":56,"d":10},{"i":13,"j":56,"d":10},{"i":14,"j":56,"d":14},{"i":15,"j":56,"d":12},{"i":16,"j":56,"d":10},{"i":17,"j":56,"d":12},{"i":18,"j":56,"d":13},{"i":19,"j":56,"d":16},{"i":20,"j":56,"d":16},{"i":21,"j":56,"d":14},{"i":22,"j":56,"d":15},{"i":23,"j":56,"d":14},{"i":24,"j":56,"d":11},{"i":25,"j":56,"d":12},{"i":26,"j":56,"d":13},{"i":27,"j":56,"d":10},{"i":28,"j":56,"d":6.5},{"i":29,"j":56,"d":11},{"i":30,"j":56,"d":11},{"i":31,"j":56,"d":6.5},{"i":32,"j":56,"d":8},{"i":33,"j":56,"d":11},{"i":34,"j":56,"d":11},{"i":35,"j":56,"d":9},{"i":36,"j":56,"d":10},{"i":37,"j":56,"d":13},{"i":38,"j":56,"d":13},{"i":39,"j":56,"d":16},{"i":40,"j":56,"d":14},{"i":41,"j":56,"d":12},{"i":42,"j":56,"d":15},{"i":43,"j":56,"d":18},{"i":44,"j":56,"d":18},{"i":45,"j":56,"d":17},{"i":46,"j":56,"d":15},{"i":47,"j":56,"d":15},{"i":48,"j":56,"d":13},{"i":49,"j":56,"d":9},{"i":50,"j":56,"d":9},{"i":51,"j":56,"d":9},{"i":52,"j":56,"d":6.5},{"i":53,"j":56,"d":5},{"i":54,"j":56,"d":8},{"i":55,"j":56,"d":1.5},{"i":56,"j":56,"d":1.5},
{"i":2,"j":55,"d":16},{"i":4,"j":55,"d":15},{"i":5,"j":55,"d":12},{"i":6,"j":55,"d":12},{"i":7,"j":55,"d":15},{"i":8,"j":55,"d":12},{"i":9,"j":55,"d":10},{"i":10,"j":55,"d":10},{"i":11,"j":55,"d":11},{"i":12,"j":55,"d":9},{"i":13,"j":55,"d":6.5},{"i":15,"j":55,"d":9},{"i":16,"j":55,"d":5},{"i":17,"j":55,"d":9},{"i":18,"j":55,"d":10},{"i":19,"j":55,"d":12},{"i":20,"j":55,"d":15},{"i":22,"j":55,"d":15},{"i":23,"j":55,"d":12},{"i":24,"j":55,"d":9},{"i":25,"j":55,"d":14},{"i":26,"j":55,"d":14},{"i":27,"j":55,"d":9},{"i":28,"j":55,"d":9},{"i":29,"j":55,"d":11},{"i":30,"j":55,"d":11},{"i":31,"j":55,"d":8},{"i":32,"j":55,"d":10},{"i":33,"j":55,"d":14},{"i":34,"j":55,"d":14},{"i":35,"j":55,"d":10},{"i":36,"j":55,"d":15},{"i":37,"j":55,"d":16},{"i":38,"j":55,"d":13},{"i":39,"j":55,"d":17},{"i":40,"j":55,"d":14},{"i":41,"j":55,"d":13},{"i":42,"j":55,"d":16},{"i":43,"j":55,"d":18},{"i":44,"j":55,"d":17},{"i":45,"j":55,"d":15},{"i":46,"j":55,"d":15},{"i":47,"j":55,"d":11},{"i":48,"j":55,"d":9},{"i":49,"j":55,"d":9},{"i":50,"j":55,"d":9},{"i":51,"j":55,"d":6.5},{"i":52,"j":55,"d":5},{"i":53,"j":55,"d":8},{"i":54,"j":55,"d":1.5},{"i":55,"j":55,"d":1.5},
{"i":5,"j":54,"d":15},{"i":6,"j":54,"d":16},{"i":7,"j":54,"d":17},{"i":8,"j":54,"d":15},{"i":9,"j":54,"d":12},{"i":10,"j":54,"d":12},{"i":11,"j":54,"d":15},{"i":12,"j":54,"d":12},{"i":13,"j":54,"d":10},{"i":14,"j":54,"d":13},{"i":15,"j":54,"d":13},{"i":16,"j":54,"d":10},{"i":17,"j":54,"d":11},{"i":18,"j":54,"d":15},{"i":19,"j":54,"d":16},{"i":21,"j":54,"d":17},{"i":23,"j":54,"d":16},{"i":24,"j":54,"d":14},{"i":25,"j":54,"d":17},{"i":26,"j":54,"d":17},{"i":27,"j":54,"d":12},{"i":28,"j":54,"d":12},{"i":29,"j":54,"d":16},{"i":30,"j":54,"d":16},{"i":31,"j":54,"d":11},{"i":32,"j":54,"d":14},{"i":33,"j":54,"d":17},{"i":34,"j":54,"d":17},{"i":35,"j":54,"d":12},{"i":36,"j":54,"d":17},{"i":37,"j":54,"d":18},{"i":38,"j":54,"d":18},{"i":39,"j":54,"d":18},{"i":40,"j":54,"d":16},{"i":41,"j":54,"d":12},{"i":42,"j":54,"d":17},{"i":43,"j":54,"d":17},{"i":44,"j":54,"d":14},{"i":45,"j":54,"d":14},{"i":46,"j":54,"d":13},{"i":47,"j":54,"d":9},{"i":48,"j":54,"d":9},{"i":49,"j":54,"d":9},{"i":50,"j":54,"d":6.5},{"i":51,"j":54,"d":5},{"i":52,"j":54,"d":8},{"i":53,"j":54,"d":1.5},{"i":54,"j":54,"d":1.5},
{"i":4,"j":53,"d":17},{"i":5,"j":53,"d":13},{"i":6,"j":53,"d":16},{"i":8,"j":53,"d":15},{"i":9,"j":53,"d":11},{"i":10,"j":53,"d":14},{"i":11,"j":53,"d":15},{"i":12,"j":53,"d":12},{"i":13,"j":53,"d":11},{"i":14,"j":53,"d":16},{"i":15,"j":53,"d":16},{"i":16,"j":53,"d":12},{"i":17,"j":53,"d":14},{"i":18,"j":53,"d":17},{"i":23,"j":53,"d":17},{"i":24,"j":53,"d":15},{"i":25,"j":53,"d":16},{"i":26,"j":53,"d":17},{"i":27,"j":53,"d":13},{"i":29,"j":53,"d":14},{"i":30,"j":53,"d":14},{"i":31,"j":53,"d":11},{"i":32,"j":53,"d":11},{"i":33,"j":53,"d":14},{"i":34,"j":53,"d":14},{"i":35,"j":53,"d":10},{"i":36,"j":53,"d":10},{"i":37,"j":53,"d":15},{"i":38,"j":53,"d":15},{"i":39,"j":53,"d":15},{"i":40,"j":53,"d":14},{"i":41,"j":53,"d":10},{"i":42,"j":53,"d":11},{"i":43,"j":53,"d":15},{"i":44,"j":53,"d":15},{"i":45,"j":53,"d":14},{"i":46,"j":53,"d":9},{"i":47,"j":53,"d":9},{"i":48,"j":53,"d":9},{"i":49,"j":53,"d":6.5},{"i":50,"j":53,"d":5},{"i":51,"j":53,"d":8},{"i":52,"j":53,"d":1.5},{"i":53,"j":53,"d":1.5},
{"i":1,"j":52,"d":14},{"i":2,"j":52,"d":14},{"i":3,"j":52,"d":14},{"i":4,"j":52,"d":13},{"i":5,"j":52,"d":11},{"i":6,"j":52,"d":11},{"i":7,"j":52,"d":12},{"i":8,"j":52,"d":10},{"i":9,"j":52,"d":8},{"i":10,"j":52,"d":11},{"i":11,"j":52,"d":11},{"i":12,"j":52,"d":9},{"i":13,"j":52,"d":6.5},{"i":14,"j":52,"d":11},{"i":16,"j":52,"d":10},{"i":17,"j":52,"d":12},{"i":18,"j":52,"d":15},{"i":19,"j":52,"d":16},{"i":21,"j":52,"d":15},{"i":23,"j":52,"d":15},{"i":24,"j":52,"d":14},{"i":25,"j":52,"d":15},{"i":27,"j":52,"d":11},{"i":28,"j":52,"d":11},{"i":29,"j":52,"d":13},{"i":30,"j":52,"d":10},{"i":31,"j":52,"d":6.5},{"i":32,"j":52,"d":11},{"i":33,"j":52,"d":12},{"i":34,"j":52,"d":10},{"i":35,"j":52,"d":6.5},{"i":36,"j":52,"d":10},{"i":37,"j":52,"d":13},{"i":38,"j":52,"d":10},{"i":39,"j":52,"d":14},{"i":40,"j":52,"d":10},{"i":41,"j":52,"d":8},{"i":42,"j":52,"d":10},{"i":43,"j":52,"d":15},{"i":44,"j":52,"d":15},{"i":45,"j":52,"d":9},{"i":46,"j":52,"d":9},{"i":47,"j":52,"d":9},{"i":48,"j":52,"d":6.5},{"i":49,"j":52,"d":5},{"i":50,"j":52,"d":8},{"i":51,"j":52,"d":1.5},{"i":52,"j":52,"d":1.5},
{"i":1,"j":51,"d":15},{"i":2,"j":51,"d":13},{"i":3,"j":51,"d":15},{"i":4,"j":51,"d":14},{"i":6,"j":51,"d":11},{"i":7,"j":51,"d":13},{"i":8,"j":51,"d":10},{"i":9,"j":51,"d":8},{"i":10,"j":51,"d":10},{"i":11,"j":51,"d":10},{"i":12,"j":51,"d":10},{"i":13,"j":51,"d":8},{"i":14,"j":51,"d":10},{"i":15,"j":51,"d":14},{"i":16,"j":51,"d":10},{"i":17,"j":51,"d":12},{"i":18,"j":51,"d":15},{"i":23,"j":51,"d":17},{"i":24,"j":51,"d":16},{"i":25,"j":51,"d":17},{"i":26,"j":51,"d":17},{"i":27,"j":51,"d":13},{"i":28,"j":51,"d":13},{"i":29,"j":51,"d":16},{"i":31,"j":51,"d":10},{"i":32,"j":51,"d":14},{"i":33,"j":51,"d":16},{"i":34,"j":51,"d":14},{"i":35,"j":51,"d":12},{"i":36,"j":51,"d":14},{"i":37,"j":51,"d":16},{"i":38,"j":51,"d":14},{"i":39,"j":51,"d":15},{"i":40,"j":51,"d":14},{"i":41,"j":51,"d":10},{"i":42,"j":51,"d":15},{"i":43,"j":51,"d":15},{"i":44,"j":51,"d":9},{"i":45,"j":51,"d":9},{"i":46,"j":51,"d":9},{"i":47,"j":51,"d":6.5},{"i":48,"j":51,"d":5},{"i":49,"j":51,"d":8},{"i":50,"j":51,"d":1.5},{"i":51,"j":51,"d":1.5},
{"i":2,"j":50,"d":17},{"i":3,"j":50,"d":17},{"i":4,"j":50,"d":17},{"i":5,"j":50,"d":13},{"i":6,"j":50,"d":14},{"i":7,"j":50,"d":16},{"i":8,"j":50,"d":16},{"i":9,"j":50,"d":12},{"i":10,"j":50,"d":13},{"i":11,"j":50,"d":17},{"i":12,"j":50,"d":14},{"i":13,"j":50,"d":12},{"i":14,"j":50,"d":16},{"i":15,"j":50,"d":16},{"i":16,"j":50,"d":14},{"i":17,"j":50,"d":15},{"i":27,"j":50,"d":15},{"i":28,"j":50,"d":15},{"i":30,"j":50,"d":16},{"i":31,"j":50,"d":13},{"i":32,"j":50,"d":14},{"i":33,"j":50,"d":16},{"i":34,"j":50,"d":16},{"i":36,"j":50,"d":14},{"i":37,"j":50,"d":17},{"i":38,"j":50,"d":13},{"i":39,"j":50,"d":16},{"i":40,"j":50,"d":12},{"i":42,"j":50,"d":11},{"i":43,"j":50,"d":9},{"i":44,"j":50,"d":9},{"i":45,"j":50,"d":9},{"i":46,"j":50,"d":6.5},{"i":47,"j":50,"d":5},{"i":48,"j":50,"d":8},{"i":49,"j":50,"d":1.5},{"i":50,"j":50,"d":1.5},
{"i":1,"j":49,"d":15},{"i":2,"j":49,"d":12},{"i":3,"j":49,"d":16},{"i":4,"j":49,"d":13},{"i":6,"j":49,"d":13},{"i":7,"j":49,"d":16},{"i":8,"j":49,"d":13},{"i":9,"j":49,"d":10},{"i":10,"j":49,"d":13},{"i":11,"j":49,"d":16},{"i":12,"j":49,"d":11},{"i":13,"j":49,"d":11},{"i":14,"j":49,"d":16},{"i":15,"j":49,"d":16},{"i":16,"j":49,"d":13},{"i":17,"j":49,"d":18},{"i":24,"j":49,"d":16},{"i":27,"j":49,"d":15},{"i":28,"j":49,"d":14},{"i":29,"j":49,"d":16},{"i":30,"j":49,"d":14},{"i":31,"j":49,"d":10},{"i":33,"j":49,"d":12},{"i":35,"j":49,"d":10},{"i":36,"j":49,"d":10},{"i":37,"j":49,"d":12},{"i":38,"j":49,"d":9},{"i":39,"j":49,"d":9},{"i":40,"j":49,"d":9},{"i":41,"j":49,"d":5},{"i":42,"j":49,"d":5},{"i":43,"j":49,"d":9},{"i":44,"j":49,"d":9},{"i":45,"j":49,"d":6.5},{"i":46,"j":49,"d":5},{"i":47,"j":49,"d":8},{"i":48,"j":49,"d":1.5},{"i":49,"j":49,"d":1.5},
{"i":3,"j":48,"d":11},{"i":5,"j":48,"d":8},{"i":6,"j":48,"d":10},{"i":7,"j":48,"d":11},{"i":8,"j":48,"d":11},{"i":9,"j":48,"d":6.5},{"i":10,"j":48,"d":10},{"i":11,"j":48,"d":11},{"i":12,"j":48,"d":11},{"i":13,"j":48,"d":9},{"i":14,"j":48,"d":14},{"i":15,"j":48,"d":14},{"i":16,"j":48,"d":14},{"i":17,"j":48,"d":16},{"i":27,"j":48,"d":15},{"i":28,"j":48,"d":15},{"i":29,"j":48,"d":18},{"i":30,"j":48,"d":14},{"i":32,"j":48,"d":13},{"i":33,"j":48,"d":16},{"i":34,"j":48,"d":12},{"i":35,"j":48,"d":10},{"i":36,"j":48,"d":14},{"i":37,"j":48,"d":15},{"i":38,"j":48,"d":10},{"i":39,"j":48,"d":14},{"i":40,"j":48,"d":10},{"i":41,"j":48,"d":10},{"i":43,"j":48,"d":9},{"i":44,"j":48,"d":9},{"i":46,"j":48,"d":8},{"i":47,"j":48,"d":1.5},{"i":48,"j":48,"d":1.5},
{"i":1,"j":47,"d":13},{"i":2,"j":47,"d":13},{"i":3,"j":47,"d":13},{"i":4,"j":47,"d":13},{"i":5,"j":47,"d":11},{"i":8,"j":47,"d":13},{"i":9,"j":47,"d":10},{"i":10,"j":47,"d":13},{"i":11,"j":47,"d":16},{"i":12,"j":47,"d":14},{"i":13,"j":47,"d":11},{"i":14,"j":47,"d":16},{"i":15,"j":47,"d":18},{"i":16,"j":47,"d":16},{"i":17,"j":47,"d":18},{"i":27,"j":47,"d":18},{"i":28,"j":47,"d":18},{"i":30,"j":47,"d":17},{"i":31,"j":47,"d":14},{"i":32,"j":47,"d":17},{"i":33,"j":47,"d":17},{"i":34,"j":47,"d":15},{"i":35,"j":47,"d":11},{"i":37,"j":47,"d":15},{"i":38,"j":47,"d":13},{"i":39,"j":47,"d":13},{"i":41,"j":47,"d":10},{"i":42,"j":47,"d":10},{"i":44,"j":47,"d":5},{"i":45,"j":47,"d":8},{"i":46,"j":47,"d":1.5},{"i":47,"j":47,"d":1.5},
{"i":2,"j":46,"d":13},{"i":3,"j":46,"d":16},{"i":4,"j":46,"d":13},{"i":6,"j":46,"d":12},{"i":7,"j":46,"d":16},{"i":8,"j":46,"d":16},{"i":9,"j":46,"d":12},{"i":10,"j":46,"d":14},{"i":11,"j":46,"d":17},{"i":12,"j":46,"d":17},{"i":13,"j":46,"d":14},{"i":14,"j":46,"d":17},{"i":16,"j":46,"d":17},{"i":30,"j":46,"d":17},{"i":31,"j":46,"d":16},{"i":32,"j":46,"d":17},{"i":33,"j":46,"d":17},{"i":34,"j":46,"d":16},{"i":35,"j":46,"d":12},{"i":36,"j":46,"d":14},{"i":38,"j":46,"d":11},{"i":41,"j":46,"d":10},{"i":43,"j":46,"d":10},{"i":44,"j":46,"d":6.5},{"i":45,"j":46,"d":1.5},{"i":46,"j":46,"d":1.5},
{"i":1,"j":45,"d":11},{"i":3,"j":45,"d":13},{"i":4,"j":45,"d":13},{"i":5,"j":45,"d":11},{"i":6,"j":45,"d":12},{"i":7,"j":45,"d":16},{"i":8,"j":45,"d":14},{"i":9,"j":45,"d":10},{"i":11,"j":45,"d":17},{"i":12,"j":45,"d":17},{"i":13,"j":45,"d":14},{"i":14,"j":45,"d":17},{"i":16,"j":45,"d":17},{"i":30,"j":45,"d":18},{"i":32,"j":45,"d":17},{"i":33,"j":45,"d":17},{"i":34,"j":45,"d":15},{"i":36,"j":45,"d":14},{"i":37,"j":45,"d":14},{"i":38,"j":45,"d":10},{"i":39,"j":45,"d":10},{"i":40,"j":45,"d":10},{"i":43,"j":45,"d":8},{"i":44,"j":45,"d":1.5},{"i":45,"j":45,"d":1.5},
{"i":3,"j":44,"d":13},{"i":4,"j":44,"d":13},{"i":5,"j":44,"d":11},{"i":6,"j":44,"d":14},{"i":7,"j":44,"d":14},{"i":8,"j":44,"d":16},{"i":9,"j":44,"d":13},{"i":10,"j":44,"d":13},{"i":11,"j":44,"d":17},{"i":12,"j":44,"d":17},{"i":13,"j":44,"d":17},{"i":30,"j":44,"d":18},{"i":31,"j":44,"d":16},{"i":32,"j":44,"d":18},{"i":33,"j":44,"d":18},{"i":35,"j":44,"d":12},{"i":36,"j":44,"d":14},{"i":37,"j":44,"d":14},{"i":39,"j":44,"d":10},{"i":40,"j":44,"d":6.5},{"i":41,"j":44,"d":6.5},{"i":42,"j":44,"d":8},{"i":43,"j":44,"d":1.5},{"i":44,"j":44,"d":1.5},
{"i":2,"j":43,"d":11},{"i":4,"j":43,"d":13},{"i":5,"j":43,"d":11},{"i":6,"j":43,"d":10},{"i":7,"j":43,"d":16},{"i":8,"j":43,"d":14},{"i":9,"j":43,"d":11},{"i":10,"j":43,"d":15},{"i":11,"j":43,"d":17},{"i":12,"j":43,"d":17},{"i":13,"j":43,"d":17},{"i":30,"j":43,"d":18},{"i":31,"j":43,"d":16},{"i":32,"j":43,"d":16},{"i":33,"j":43,"d":16},{"i":34,"j":43,"d":15},{"i":36,"j":43,"d":14},{"i":37,"j":43,"d":13},{"i":38,"j":43,"d":10},{"i":39,"j":43,"d":6.5},{"i":40,"j":43,"d":5},{"i":41,"j":43,"d":8},{"i":42,"j":43,"d":1.5},{"i":43,"j":43,"d":1.5},
{"i":1,"j":42,"d":12},{"i":2,"j":42,"d":10},{"i":4,"j":42,"d":11},{"i":6,"j":42,"d":10},{"i":9,"j":42,"d":10},{"i":11,"j":42,"d":16},{"i":12,"j":42,"d":14},{"i":14,"j":42,"d":15},{"i":16,"j":42,"d":16},{"i":27,"j":42,"d":18},{"i":28,"j":42,"d":18},{"i":29,"j":42,"d":18},{"i":30,"j":42,"d":16},{"i":31,"j":42,"d":15},{"i":32,"j":42,"d":15},{"i":33,"j":42,"d":15},{"i":34,"j":42,"d":15},{"i":35,"j":42,"d":11},{"i":36,"j":42,"d":12},{"i":37,"j":42,"d":12},{"i":38,"j":42,"d":6.5},{"i":39,"j":42,"d":5},{"i":40,"j":42,"d":8},{"i":41,"j":42,"d":1.5},{"i":42,"j":42,"d":1.5},
{"i":1,"j":41,"d":10},{"i":2,"j":41,"d":10},{"i":3,"j":41,"d":11},{"i":5,"j":41,"d":6.5},{"i":6,"j":41,"d":10},{"i":7,"j":41,"d":10},{"i":8,"j":41,"d":10},{"i":9,"j":41,"d":9},{"i":10,"j":41,"d":11},{"i":12,"j":41,"d":10},{"i":13,"j":41,"d":10},{"i":14,"j":41,"d":16},{"i":15,"j":41,"d":16},{"i":16,"j":41,"d":16},{"i":26,"j":41,"d":18},{"i":27,"j":41,"d":16},{"i":28,"j":41,"d":16},{"i":29,"j":41,"d":17},{"i":30,"j":41,"d":13},{"i":31,"j":41,"d":10},{"i":33,"j":41,"d":11},{"i":34,"j":41,"d":10},{"i":35,"j":41,"d":5},{"i":36,"j":41,"d":10},{"i":37,"j":41,"d":10},{"i":38,"j":41,"d":5},{"i":39,"j":41,"d":8},{"i":40,"j":41,"d":1.5},{"i":41,"j":41,"d":1.5},
{"i":1,"j":40,"d":10},{"i":2,"j":40,"d":10},{"i":3,"j":40,"d":10},{"i":5,"j":40,"d":10},{"i":6,"j":40,"d":10},{"i":8,"j":40,"d":10},{"i":9,"j":40,"d":10},{"i":11,"j":40,"d":16},{"i":12,"j":40,"d":14},{"i":13,"j":40,"d":14},{"i":14,"j":40,"d":18},{"i":15,"j":40,"d":18},{"i":16,"j":40,"d":15},{"i":27,"j":40,"d":17},{"i":28,"j":40,"d":17},{"i":29,"j":40,"d":16},{"i":32,"j":40,"d":13},{"i":33,"j":40,"d":13},{"i":34,"j":40,"d":10},{"i":35,"j":40,"d":10},{"i":36,"j":40,"d":12},{"i":37,"j":40,"d":10},{"i":38,"j":40,"d":5},{"i":39,"j":40,"d":1.5},{"i":40,"j":40,"d":1.5},
{"i":1,"j":39,"d":12},{"i":2,"j":39,"d":14},{"i":4,"j":39,"d":13},{"i":5,"j":39,"d":11},{"i":7,"j":39,"d":16},{"i":8,"j":39,"d":16},{"i":9,"j":39,"d":14},{"i":10,"j":39,"d":17},{"i":11,"j":39,"d":17},{"i":12,"j":39,"d":16},{"i":13,"j":39,"d":15},{"i":27,"j":39,"d":18},{"i":28,"j":39,"d":18},{"i":29,"j":39,"d":16},{"i":30,"j":39,"d":17},{"i":31,"j":39,"d":14},{"i":32,"j":39,"d":14},{"i":33,"j":39,"d":14},{"i":34,"j":39,"d":10},{"i":35,"j":39,"d":10},{"i":36,"j":39,"d":10},{"i":37,"j":39,"d":8},{"i":38,"j":39,"d":1.5},{"i":39,"j":39,"d":1.5},
{"i":1,"j":38,"d":11},{"i":2,"j":38,"d":13},{"i":3,"j":38,"d":14},{"i":4,"j":38,"d":10},{"i":5,"j":38,"d":10},{"i":6,"j":38,"d":13},{"i":8,"j":38,"d":11},{"i":9,"j":38,"d":11},{"i":10,"j":38,"d":16},{"i":11,"j":38,"d":16},{"i":12,"j":38,"d":14},{"i":14,"j":38,"d":16},{"i":15,"j":38,"d":16},{"i":16,"j":38,"d":16},{"i":26,"j":38,"d":18},{"i":27,"j":38,"d":16},{"i":28,"j":38,"d":15},{"i":29,"j":38,"d":15},{"i":30,"j":38,"d":12},{"i":31,"j":38,"d":10},{"i":32,"j":38,"d":12},{"i":33,"j":38,"d":11},{"i":34,"j":38,"d":6.5},{"i":35,"j":38,"d":5},{"i":36,"j":38,"d":8},{"i":37,"j":38,"d":1.5},{"i":38,"j":38,"d":1.5},
{"i":1,"j":37,"d":15},{"i":3,"j":37,"d":15},{"i":4,"j":37,"d":15},{"i":5,"j":37,"d":15},{"i":6,"j":37,"d":16},{"i":7,"j":37,"d":17},{"i":8,"j":37,"d":14},{"i":9,"j":37,"d":14},{"i":10,"j":37,"d":17},{"i":11,"j":37,"d":17},{"i":12,"j":37,"d":14},{"i":13,"j":37,"d":15},{"i":15,"j":37,"d":17},{"i":16,"j":37,"d":17},{"i":25,"j":37,"d":18},{"i":26,"j":37,"d":16},{"i":27,"j":37,"d":16},{"i":28,"j":37,"d":15},{"i":29,"j":37,"d":12},{"i":30,"j":37,"d":10},{"i":31,"j":37,"d":10},{"i":32,"j":37,"d":10},{"i":33,"j":37,"d":6.5},{"i":34,"j":37,"d":5},{"i":35,"j":37,"d":8},{"i":36,"j":37,"d":1.5},{"i":37,"j":37,"d":1.5},
{"i":1,"j":36,"d":16},{"i":2,"j":36,"d":16},{"i":3,"j":36,"d":17},{"i":4,"j":36,"d":16},{"i":5,"j":36,"d":15},{"i":6,"j":36,"d":17},{"i":7,"j":36,"d":17},{"i":9,"j":36,"d":13},{"i":10,"j":36,"d":16},{"i":11,"j":36,"d":16},{"i":12,"j":36,"d":14},{"i":14,"j":36,"d":16},{"i":15,"j":36,"d":15},{"i":24,"j":36,"d":16},{"i":25,"j":36,"d":16},{"i":26,"j":36,"d":15},{"i":27,"j":36,"d":15},{"i":28,"j":36,"d":14},{"i":29,"j":36,"d":10},{"i":30,"j":36,"d":10},{"i":31,"j":36,"d":6.5},{"i":32,"j":36,"d":5},{"i":33,"j":36,"d":8},{"i":34,"j":36,"d":8},{"i":35,"j":36,"d":1.5},{"i":36,"j":36,"d":1.5},
{"i":1,"j":35,"d":12},{"i":2,"j":35,"d":12},{"i":4,"j":35,"d":12},{"i":5,"j":35,"d":11},{"i":6,"j":35,"d":13},{"i":7,"j":35,"d":13},{"i":8,"j":35,"d":10},{"i":9,"j":35,"d":8},{"i":10,"j":35,"d":13},{"i":11,"j":35,"d":13},{"i":12,"j":35,"d":9},{"i":13,"j":35,"d":11},{"i":15,"j":35,"d":14},{"i":16,"j":35,"d":10},{"i":17,"j":35,"d":16},{"i":18,"j":35,"d":16},{"i":23,"j":35,"d":16},{"i":24,"j":35,"d":16},{"i":25,"j":35,"d":15},{"i":26,"j":35,"d":15},{"i":27,"j":35,"d":14},{"i":28,"j":35,"d":10},{"i":29,"j":35,"d":10},{"i":30,"j":35,"d":6.5},{"i":31,"j":35,"d":5},{"i":32,"j":35,"d":8},{"i":33,"j":35,"d":8},{"i":34,"j":35,"d":1.5},{"i":35,"j":35,"d":1.5},
{"i":1,"j":34,"d":11},{"i":4,"j":34,"d":11},{"i":6,"j":34,"d":14},{"i":7,"j":34,"d":14},{"i":8,"j":34,"d":10},{"i":9,"j":34,"d":11},{"i":10,"j":34,"d":14},{"i":11,"j":34,"d":11},{"i":12,"j":34,"d":9},{"i":13,"j":34,"d":12},{"i":14,"j":34,"d":15},{"i":15,"j":34,"d":11},{"i":16,"j":34,"d":11},{"i":17,"j":34,"d":16},{"i":18,"j":34,"d":16},{"i":22,"j":34,"d":18},{"i":23,"j":34,"d":16},{"i":24,"j":34,"d":16},{"i":25,"j":34,"d":14},{"i":26,"j":34,"d":14},{"i":27,"j":34,"d":13},{"i":28,"j":34,"d":11},{"i":29,"j":34,"d":10},{"i":30,"j":34,"d":5},{"i":31,"j":34,"d":8},{"i":32,"j":34,"d":8},{"i":33,"j":34,"d":1.5},{"i":34,"j":34,"d":1.5},
{"i":1,"j":33,"d":17},{"i":2,"j":33,"d":17},{"i":3,"j":33,"d":17},{"i":4,"j":33,"d":15},{"i":6,"j":33,"d":18},{"i":7,"j":33,"d":18},{"i":8,"j":33,"d":15},{"i":9,"j":33,"d":15},{"i":10,"j":33,"d":16},{"i":11,"j":33,"d":16},{"i":12,"j":33,"d":12},{"i":14,"j":33,"d":16},{"i":15,"j":33,"d":15},{"i":16,"j":33,"d":13},{"i":17,"j":33,"d":18},{"i":18,"j":33,"d":16},{"i":21,"j":33,"d":18},{"i":22,"j":33,"d":15},{"i":23,"j":33,"d":15},{"i":24,"j":33,"d":15},{"i":25,"j":33,"d":14},{"i":26,"j":33,"d":11},{"i":27,"j":33,"d":9},{"i":28,"j":33,"d":11},{"i":29,"j":33,"d":6.5},{"i":30,"j":33,"d":6.5},{"i":31,"j":33,"d":8},{"i":32,"j":33,"d":1.5},{"i":33,"j":33,"d":1.5},
{"i":4,"j":32,"d":16},{"i":5,"j":32,"d":16},{"i":6,"j":32,"d":18},{"i":7,"j":32,"d":18},{"i":8,"j":32,"d":15},{"i":9,"j":32,"d":15},{"i":10,"j":32,"d":16},{"i":11,"j":32,"d":16},{"i":12,"j":32,"d":11},{"i":13,"j":32,"d":14},{"i":14,"j":32,"d":16},{"i":15,"j":32,"d":13},{"i":16,"j":32,"d":11},{"i":17,"j":32,"d":16},{"i":18,"j":32,"d":15},{"i":20,"j":32,"d":18},{"i":21,"j":32,"d":14},{"i":22,"j":32,"d":14},{"i":23,"j":32,"d":14},{"i":24,"j":32,"d":12},{"i":25,"j":32,"d":9},{"i":26,"j":32,"d":9},{"i":27,"j":32,"d":9},{"i":28,"j":32,"d":6.5},{"i":29,"j":32,"d":5},{"i":30,"j":32,"d":8},{"i":31,"j":32,"d":1.5},{"i":32,"j":32,"d":1.5},
{"i":1,"j":31,"d":16},{"i":2,"j":31,"d":16},{"i":3,"j":31,"d":16},{"i":4,"j":31,"d":13},{"i":5,"j":31,"d":12},{"i":7,"j":31,"d":14},{"i":8,"j":31,"d":11},{"i":9,"j":31,"d":11},{"i":10,"j":31,"d":13},{"i":11,"j":31,"d":12},{"i":12,"j":31,"d":6.5},{"i":13,"j":31,"d":10},{"i":15,"j":31,"d":10},{"i":16,"j":31,"d":8},{"i":17,"j":31,"d":13},{"i":18,"j":31,"d":14},{"i":19,"j":31,"d":17},{"i":20,"j":31,"d":16},{"i":21,"j":31,"d":15},{"i":22,"j":31,"d":14},{"i":23,"j":31,"d":13},{"i":24,"j":31,"d":10},{"i":25,"j":31,"d":10},{"i":26,"j":31,"d":10},{"i":27,"j":31,"d":6.5},{"i":28,"j":31,"d":5},{"i":29,"j":31,"d":8},{"i":30,"j":31,"d":1.5},{"i":31,"j":31,"d":1.5},
{"i":1,"j":30,"d":17},{"i":2,"j":30,"d":15},{"i":3,"j":30,"d":15},{"i":4,"j":30,"d":14},{"i":5,"j":30,"d":14},{"i":6,"j":30,"d":15},{"i":8,"j":30,"d":11},{"i":9,"j":30,"d":12},{"i":10,"j":30,"d":14},{"i":11,"j":30,"d":10},{"i":12,"j":30,"d":8},{"i":13,"j":30,"d":12},{"i":14,"j":30,"d":12},{"i":16,"j":30,"d":10},{"i":17,"j":30,"d":14},{"i":18,"j":30,"d":14},{"i":19,"j":30,"d":16},{"i":20,"j":30,"d":14},{"i":21,"j":30,"d":16},{"i":22,"j":30,"d":15},{"i":23,"j":30,"d":10},{"i":24,"j":30,"d":10},{"i":25,"j":30,"d":10},{"i":26,"j":30,"d":6.5},{"i":27,"j":30,"d":5},{"i":28,"j":30,"d":8},{"i":29,"j":30,"d":1.5},{"i":30,"j":30,"d":1.5},
{"i":4,"j":29,"d":18},{"i":5,"j":29,"d":18},{"i":8,"j":29,"d":16},{"i":9,"j":29,"d":16},{"i":10,"j":29,"d":17},{"i":11,"j":29,"d":17},{"i":12,"j":29,"d":12},{"i":13,"j":29,"d":15},{"i":14,"j":29,"d":16},{"i":15,"j":29,"d":11},{"i":16,"j":29,"d":11},{"i":17,"j":29,"d":15},{"i":18,"j":29,"d":15},{"i":19,"j":29,"d":17},{"i":20,"j":29,"d":14},{"i":21,"j":29,"d":13},{"i":22,"j":29,"d":10},{"i":23,"j":29,"d":10},{"i":24,"j":29,"d":10},{"i":25,"j":29,"d":6.5},{"i":26,"j":29,"d":5},{"i":27,"j":29,"d":8},{"i":28,"j":29,"d":1.5},{"i":29,"j":29,"d":1.5},
{"i":4,"j":28,"d":17},{"i":5,"j":28,"d":16},{"i":7,"j":28,"d":17},{"i":9,"j":28,"d":13},{"i":10,"j":28,"d":16},{"i":11,"j":28,"d":14},{"i":12,"j":28,"d":11},{"i":13,"j":28,"d":11},{"i":14,"j":28,"d":14},{"i":16,"j":28,"d":8},{"i":17,"j":28,"d":12},{"i":18,"j":28,"d":11},{"i":19,"j":28,"d":13},{"i":20,"j":28,"d":13},{"i":21,"j":28,"d":10},{"i":22,"j":28,"d":10},{"i":23,"j":28,"d":10},{"i":24,"j":28,"d":6.5},{"i":25,"j":28,"d":5},{"i":26,"j":28,"d":8},{"i":27,"j":28,"d":1.5},{"i":28,"j":28,"d":1.5},
{"i":4,"j":27,"d":15},{"i":5,"j":27,"d":14},{"i":6,"j":27,"d":16},{"i":9,"j":27,"d":12},{"i":10,"j":27,"d":12},{"i":11,"j":27,"d":11},{"i":12,"j":27,"d":6.5},{"i":13,"j":27,"d":10},{"i":15,"j":27,"d":5},{"i":16,"j":27,"d":5},{"i":17,"j":27,"d":10},{"i":18,"j":27,"d":8},{"i":19,"j":27,"d":12},{"i":20,"j":27,"d":10},{"i":21,"j":27,"d":10},{"i":22,"j":27,"d":10},{"i":23,"j":27,"d":6.5},{"i":24,"j":27,"d":5},{"i":25,"j":27,"d":8},{"i":26,"j":27,"d":1.5},{"i":27,"j":27,"d":1.5},
{"i":4,"j":26,"d":17},{"i":5,"j":26,"d":17},{"i":7,"j":26,"d":17},{"i":9,"j":26,"d":14},{"i":10,"j":26,"d":16},{"i":11,"j":26,"d":14},{"i":12,"j":26,"d":11},{"i":13,"j":26,"d":15},{"i":14,"j":26,"d":15},{"i":15,"j":26,"d":10},{"i":16,"j":26,"d":10},{"i":17,"j":26,"d":13},{"i":18,"j":26,"d":10},{"i":19,"j":26,"d":14},{"i":20,"j":26,"d":9},{"i":21,"j":26,"d":9},{"i":22,"j":26,"d":6.5},{"i":23,"j":26,"d":5},{"i":24,"j":26,"d":8},{"i":25,"j":26,"d":1.5},{"i":26,"j":26,"d":1.5},
{"i":8,"j":25,"d":18},{"i":9,"j":25,"d":18},{"i":10,"j":25,"d":18},{"i":11,"j":25,"d":17},{"i":12,"j":25,"d":15},{"i":13,"j":25,"d":15},{"i":14,"j":25,"d":15},{"i":15,"j":25,"d":10},{"i":16,"j":25,"d":10},{"i":17,"j":25,"d":13},{"i":18,"j":25,"d":10},{"i":19,"j":25,"d":14},{"i":20,"j":25,"d":9},{"i":21,"j":25,"d":6.5},{"i":22,"j":25,"d":5},{"i":23,"j":25,"d":8},{"i":24,"j":25,"d":1.5},{"i":25,"j":25,"d":1.5},
{"i":8,"j":24,"d":15},{"i":9,"j":24,"d":15},{"i":10,"j":24,"d":15},{"i":11,"j":24,"d":14},{"i":12,"j":24,"d":12},{"i":13,"j":24,"d":12},{"i":14,"j":24,"d":12},{"i":15,"j":24,"d":8},{"i":16,"j":24,"d":6.5},{"i":17,"j":24,"d":8},{"i":18,"j":24,"d":5},{"i":19,"j":24,"d":10},{"i":20,"j":24,"d":6.5},{"i":21,"j":24,"d":5},{"i":22,"j":24,"d":8},{"i":23,"j":24,"d":1.5},{"i":24,"j":24,"d":1.5},
{"i":7,"j":23,"d":17},{"i":8,"j":23,"d":15},{"i":9,"j":23,"d":15},{"i":10,"j":23,"d":15},{"i":11,"j":23,"d":12},{"i":12,"j":23,"d":10},{"i":13,"j":23,"d":12},{"i":14,"j":23,"d":10},{"i":15,"j":23,"d":8},{"i":16,"j":23,"d":10},{"i":17,"j":23,"d":10},{"i":18,"j":23,"d":4},{"i":19,"j":23,"d":8},{"i":20,"j":23,"d":4},{"i":21,"j":23,"d":8},{"i":22,"j":23,"d":1.5},{"i":23,"j":23,"d":1.5},
{"i":11,"j":22,"d":18},{"i":12,"j":22,"d":15},{"i":13,"j":22,"d":16},{"i":14,"j":22,"d":16},{"i":15,"j":22,"d":10},{"i":16,"j":22,"d":13},{"i":17,"j":22,"d":14},{"i":18,"j":22,"d":10},{"i":19,"j":22,"d":10},{"i":20,"j":22,"d":5},{"i":21,"j":22,"d":1.5},{"i":22,"j":22,"d":1.5},
{"i":11,"j":21,"d":18},{"i":12,"j":21,"d":16},{"i":13,"j":21,"d":16},{"i":14,"j":21,"d":16},{"i":15,"j":21,"d":13},{"i":16,"j":21,"d":12},{"i":17,"j":21,"d":12},{"i":18,"j":21,"d":8},{"i":19,"j":21,"d":8},{"i":20,"j":21,"d":1.5},{"i":21,"j":21,"d":1.5},
{"i":10,"j":20,"d":18},{"i":11,"j":20,"d":17},{"i":12,"j":20,"d":15},{"i":13,"j":20,"d":15},{"i":14,"j":20,"d":11},{"i":15,"j":20,"d":10},{"i":16,"j":20,"d":12},{"i":17,"j":20,"d":11},{"i":18,"j":20,"d":5},{"i":19,"j":20,"d":1.5},{"i":20,"j":20,"d":1.5},
{"i":10,"j":19,"d":17},{"i":11,"j":19,"d":14},{"i":12,"j":19,"d":14},{"i":13,"j":19,"d":14},{"i":14,"j":19,"d":12},{"i":15,"j":19,"d":10},{"i":16,"j":19,"d":10},{"i":17,"j":19,"d":8},{"i":18,"j":19,"d":1.5},{"i":19,"j":19,"d":1.5},
{"i":7,"j":18,"d":17},{"i":8,"j":18,"d":15},{"i":9,"j":18,"d":14},{"i":10,"j":18,"d":14},{"i":11,"j":18,"d":11},{"i":12,"j":18,"d":11},{"i":13,"j":18,"d":12},{"i":14,"j":18,"d":8},{"i":15,"j":18,"d":5},{"i":16,"j":18,"d":8},{"i":17,"j":18,"d":1.5},{"i":18,"j":18,"d":1.5},
{"i":5,"j":17,"d":18},{"i":6,"j":17,"d":18},{"i":7,"j":17,"d":16},{"i":8,"j":17,"d":15},{"i":9,"j":17,"d":12},{"i":10,"j":17,"d":12},{"i":11,"j":17,"d":12},{"i":12,"j":17,"d":12},{"i":13,"j":17,"d":8},{"i":14,"j":17,"d":6.5},{"i":15,"j":17,"d":8},{"i":16,"j":17,"d":1.5},{"i":17,"j":17,"d":1.5},
{"i":4,"j":16,"d":16},{"i":5,"j":16,"d":16},{"i":6,"j":16,"d":16},{"i":8,"j":16,"d":14},{"i":9,"j":16,"d":10},{"i":10,"j":16,"d":10},{"i":11,"j":16,"d":10},{"i":12,"j":16,"d":6.5},{"i":13,"j":16,"d":5},{"i":14,"j":16,"d":8},{"i":15,"j":16,"d":1.5},{"i":16,"j":16,"d":1.5},
{"i":2,"j":15,"d":18},{"i":3,"j":15,"d":18},{"i":4,"j":15,"d":14},{"i":7,"j":15,"d":14},{"i":8,"j":15,"d":10},{"i":9,"j":15,"d":10},{"i":10,"j":15,"d":10},{"i":11,"j":15,"d":6.5},{"i":12,"j":15,"d":5},{"i":13,"j":15,"d":8},{"i":14,"j":15,"d":1.5},{"i":15,"j":15,"d":1.5},
{"i":2,"j":14,"d":18},{"i":3,"j":14,"d":16},{"i":4,"j":14,"d":14},{"i":5,"j":14,"d":14},{"i":6,"j":14,"d":14},{"i":7,"j":14,"d":14},{"i":8,"j":14,"d":10},{"i":9,"j":14,"d":10},{"i":10,"j":14,"d":6.5},{"i":11,"j":14,"d":5},{"i":12,"j":14,"d":8},{"i":13,"j":14,"d":1.5},{"i":14,"j":14,"d":1.5},
{"i":1,"j":13,"d":16},{"i":2,"j":13,"d":16},{"i":3,"j":13,"d":14},{"i":4,"j":13,"d":12},{"i":5,"j":13,"d":12},{"i":6,"j":13,"d":12},{"i":7,"j":13,"d":12},{"i":8,"j":13,"d":12},{"i":9,"j":13,"d":6.5},{"i":10,"j":13,"d":5},{"i":11,"j":13,"d":8},{"i":12,"j":13,"d":1.5},{"i":13,"j":13,"d":1.5},
{"i":1,"j":12,"d":13},{"i":2,"j":12,"d":13},{"i":3,"j":12,"d":13},{"i":5,"j":12,"d":10},{"i":6,"j":12,"d":11},{"i":7,"j":12,"d":10},{"i":8,"j":12,"d":6.5},{"i":9,"j":12,"d":5},{"i":10,"j":12,"d":8},{"i":11,"j":12,"d":1.5},{"i":12,"j":12,"d":1.5},
{"i":1,"j":11,"d":14},{"i":2,"j":11,"d":14},{"i":3,"j":11,"d":14},{"i":4,"j":11,"d":10},{"i":5,"j":11,"d":11},{"i":6,"j":11,"d":10},{"i":7,"j":11,"d":6.5},{"i":8,"j":11,"d":5},{"i":9,"j":11,"d":8},{"i":10,"j":11,"d":1.5},{"i":11,"j":11,"d":1.5},
{"i":1,"j":10,"d":13},{"i":2,"j":10,"d":11},{"i":3,"j":10,"d":11},{"i":4,"j":10,"d":10},{"i":5,"j":10,"d":10},{"i":6,"j":10,"d":8},{"i":7,"j":10,"d":8},{"i":8,"j":10,"d":8},{"i":9,"j":10,"d":1.5},{"i":10,"j":10,"d":1.5},
{"i":1,"j":9,"d":10},{"i":2,"j":9,"d":10},{"i":3,"j":9,"d":10},{"i":4,"j":9,"d":6.5},{"i":5,"j":9,"d":5},{"i":6,"j":9,"d":8},{"i":7,"j":9,"d":8},{"i":8,"j":9,"d":1.5},{"i":9,"j":9,"d":1.5},
{"i":1,"j":8,"d":10},{"i":2,"j":8,"d":10},{"i":3,"j":8,"d":6.5},{"i":4,"j":8,"d":5},{"i":5,"j":8,"d":8},{"i":6,"j":8,"d":8},{"i":7,"j":8,"d":1.5},{"i":8,"j":8,"d":1.5},
{"i":1,"j":7,"d":12},{"i":2,"j":7,"d":10},{"i":3,"j":7,"d":5},{"i":4,"j":7,"d":8},{"i":5,"j":7,"d":8},{"i":6,"j":7,"d":1.5},{"i":7,"j":7,"d":1.5},
{"i":1,"j":6,"d":10},{"i":2,"j":6,"d":6.5},{"i":3,"j":6,"d":6.5},{"i":4,"j":6,"d":8},{"i":5,"j":6,"d":1.5},{"i":6,"j":6,"d":1.5},
{"i":1,"j":5,"d":6.5},{"i":2,"j":5,"d":5},{"i":3,"j":5,"d":8},{"i":4,"j":5,"d":1.5},{"i":5,"j":5,"d":1.5},
{"i":1,"j":4,"d":5},{"i":2,"j":4,"d":8},{"i":3,"j":4,"d":1.5},{"i":4,"j":4,"d":1.5},
{"i":1,"j":3,"d":8},{"i":2,"j":3,"d":1.5},{"i":3,"j":3,"d":1.5},
{"i":1,"j":2,"d":1.5},{"i":2,"j":2,"d":1.5},{"i":1,"j":1,"d":1.5}
]},
"hconcat":[
{"width":1698,"height":1696,"view":{"fill":"#0000ff","stroke":null},"data":{"name":"m"},
"layer":[
{"mark":{"type":"rect","strokeWidth":0.3},"encoding":{
"x":{"field":"i","type":"ordinal","scale":{"domain":[1,2,3,4,5,6,7,8,9,10,11,12,13,14,15,16,17,18,19,20,21,22,23,24,25,26,27,28,29,30,31,32,33,34,35,36,37,38,39,40,41,42,43,44,45,46,47,48,49,50,51,52,53,54,55,56,57,58,59,60,61,62,63,64,65,66,67,68,69,70,71,72,73,74,75,76,77,78,79,80,81,82,83,84,85,86,87,88,89,90,91,92],"paddingInner":0,"paddingOuter":0},"axis":{"orient":"bottom","values":[20,40,60,80],"title":"Residue index","labelAngle":0,"labelPadding":1,"titlePadding":-2,"zindex":1}},
"y":{"field":"j","type":"ordinal","scale":{"domain":[92,91,90,89,88,87,86,85,84,83,82,81,80,79,78,77,76,75,74,73,72,71,70,69,68,67,66,65,64,63,62,61,60,59,58,57,56,55,54,53,52,51,50,49,48,47,46,45,44,43,42,41,40,39,38,37,36,35,34,33,32,31,30,29,28,27,26,25,24,23,22,21,20,19,18,17,16,15,14,13,12,11,10,9,8,7,6,5,4,3,2,1],"paddingInner":0,"paddingOuter":0},"axis":{"orient":"left","values":[20,40,60,80],"title":"Residue index","labelPadding":4,"titlePadding":6,"zindex":1}},
"color":{"field":"d","type":"quantitative","legend":null,"scale":{"type":"threshold","domain":[2.04,3.33,4.62,5.9,7.2,8.45,9.75,11,12.3,13.6,14.9,16.2,17.4,18.7,20],"range":["#ff0000","#ff2200","#ff4500","#ff6400","#ff8c00","#ffa500","#a5be83","#9bb78a","#91b092","#87a999","#7da2a0","#739ba8","#6994af","#5f8db6","#5586bd","#0000ff"]}},
"stroke":{"field":"d","type":"quantitative","legend":null,"scale":{"type":"threshold","domain":[2.04,3.33,4.62,5.9,7.2,8.45,9.75,11,12.3,13.6,14.9,16.2,17.4,18.7,20],"range":["#ff0000","#ff2200","#ff4500","#ff6400","#ff8c00","#ffa500","#a5be83","#9bb78a","#91b092","#87a999","#7da2a0","#739ba8","#6994af","#5f8db6","#5586bd","#0000ff"]}}
}},
{"mark":{"type":"rect","strokeWidth":0.3},"encoding":{
"x":{"field":"j","type":"ordinal","scale":{"domain":[1,2,3,4,5,6,7,8,9,10,11,12,13,14,15,16,17,18,19,20,21,22,23,24,25,26,27,28,29,30,31,32,33,34,35,36,37,38,39,40,41,42,43,44,45,46,47,48,49,50,51,52,53,54,55,56,57,58,59,60,61,62,63,64,65,66,67,68,69,70,71,72,73,74,75,76,77,78,79,80,81,82,83,84,85,86,87,88,89,90,91,92],"paddingInner":0,"paddingOuter":0},"axis":{"orient":"top","values":[20,40,60,80],"title":null,"labels":false,"zindex":1}},
"y":{"field":"i","type":"ordinal","scale":{"domain":[92,91,90,89,88,87,86,85,84,83,82,81,80,79,78,77,76,75,74,73,72,71,70,69,68,67,66,65,64,63,62,61,60,59,58,57,56,55,54,53,52,51,50,49,48,47,46,45,44,43,42,41,40,39,38,37,36,35,34,33,32,31,30,29,28,27,26,25,24,23,22,21,20,19,18,17,16,15,14,13,12,11,10,9,8,7,6,5,4,3,2,1],"paddingInner":0,"paddingOuter":0},"axis":{"orient":"right","values":[20,40,60,80],"title":null,"labels":false,"zindex":1}},
"color":{"field":"d","type":"quantitative","legend":null,"scale":{"type":"threshold","domain":[2.04,3.33,4.62,5.9,7.2,8.45,9.75,11,12.3,13.6,14.9,16.2,17.4,18.7,20],"range":["#ff0000","#ff2200","#ff4500","#ff6400","#ff8c00","#ffa500","#a5be83","#9bb78a","#91b092","#87a999","#7da2a0","#739ba8","#6994af","#5f8db6","#5586bd","#0000ff"]}},
"stroke":{"field":"d","type":"quantitative","legend":null,"scale":{"type":"threshold","domain":[2.04,3.33,4.62,5.9,7.2,8.45,9.75,11,12.3,13.6,14.9,16.2,17.4,18.7,20],"range":["#ff0000","#ff2200","#ff4500","#ff6400","#ff8c00","#ffa500","#a5be83","#9bb78a","#91b092","#87a999","#7da2a0","#739ba8","#6994af","#5f8db6","#5586bd","#0000ff"]}}
}}
],
"resolve":{"axis":{"x":"independent","y":"independent"},"scale":{"x":"shared","y":"shared"}}
},
{"width":12,"height":1696,"view":{"stroke":null},
"layer":[
{"data":{"values":[{"a":0.75,"b":2.04,"c":1.5},{"a":2.04,"b":3.33,"c":2.7},{"a":3.33,"b":4.62,"c":4},{"a":4.62,"b":5.9,"c":5},{"a":5.9,"b":7.2,"c":6.5},{"a":7.2,"b":8.45,"c":8},{"a":8.45,"b":9.75,"c":9},{"a":9.75,"b":11,"c":10},{"a":11,"b":12.3,"c":11.5},{"a":12.3,"b":13.6,"c":13},{"a":13.6,"b":14.9,"c":14},{"a":14.9,"b":16.2,"c":15.5},{"a":16.2,"b":17.4,"c":17},{"a":17.4,"b":18.7,"c":18},{"a":18.7,"b":20,"c":19},{"a":20,"b":21.25,"c":20.5}]},
"mark":{"type":"rect"},
"encoding":{"y":{"field":"a","type":"quantitative","scale":{"domain":[0.75,21.25],"nice":false,"zero":false},"axis":{"orient":"right","values":[5,10,15,20],"format":"d","title":null,"labelFontSize":47,"labelPadding":3,"domain":false,"grid":false,"tickSize":6,"zindex":1}},"y2":{"field":"b"},
"color":{"field":"c","type":"quantitative","legend":null,"scale":{"type":"threshold","domain":[2.04,3.33,4.62,5.9,7.2,8.45,9.75,11,12.3,13.6,14.9,16.2,17.4,18.7,20],"range":["#ff0000","#ff2200","#ff4500","#ff6400","#ff8c00","#ffa500","#a5be83","#9bb78a","#91b092","#87a999","#7da2a0","#739ba8","#6994af","#5f8db6","#5586bd","#0000ff"]}}}},
{"data":{"values":[{"a":0.75,"b":21.25}]},"mark":{"type":"rect","filled":false,"stroke":"black","strokeWidth":5},"encoding":{"y":{"field":"a","type":"quantitative"},"y2":{"field":"b"}}}
]}
],
"config":{"font":"Liberation Sans","axis":{"domainColor":"black","domainWidth":6,"domainCap":"square","tickColor":"black","tickWidth":4,"tickCap":"round","tickSize":6,"labelFont":"Liberation Sans","labelFontWeight":"bold","labelFontSize":58,"labelColor":"black","titleFont":"Liberation Sans","titleFontWeight":"bold","titleFontSize":60,"titleColor":"black","grid":false,"labelOverlap":false}}
}
